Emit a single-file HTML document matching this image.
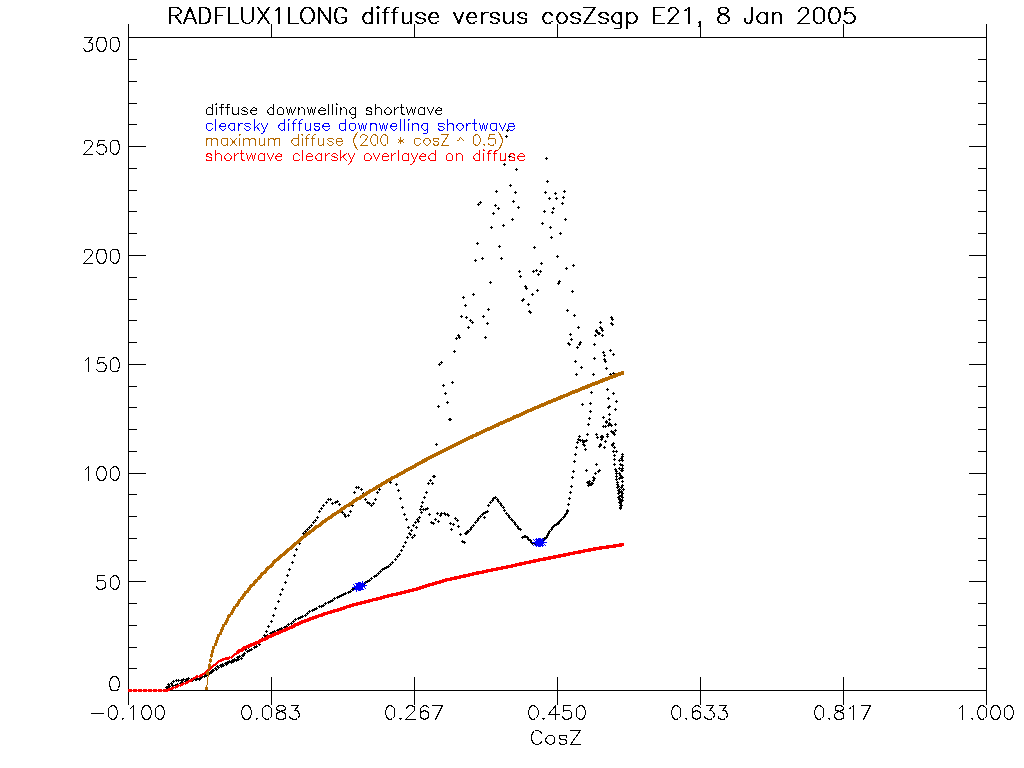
<!DOCTYPE html>
<html><head><meta charset="utf-8"><style>
html,body{margin:0;padding:0;background:#fff;width:1024px;height:768px;overflow:hidden}
svg{display:block}
</style></head><body>
<svg width="1024" height="768" viewBox="0 0 1024 768" shape-rendering="crispEdges">
<rect width="1024" height="768" fill="#fff"/>
<g fill="none" stroke-width="1" stroke-linecap="square" stroke-linejoin="miter">
<rect x="128" y="24" width="1" height="681" fill="#000"/>
<rect x="986" y="24" width="1" height="681" fill="#000"/>
<rect x="128" y="37" width="859" height="1" fill="#000"/>
<rect x="128" y="690" width="859" height="1" fill="#000"/>
<rect x="128" y="24" width="1" height="13" fill="#000"/>
<rect x="128" y="677" width="1" height="28" fill="#000"/>
<rect x="271" y="24" width="1" height="13" fill="#000"/>
<rect x="271" y="677" width="1" height="28" fill="#000"/>
<rect x="414" y="24" width="1" height="13" fill="#000"/>
<rect x="414" y="677" width="1" height="28" fill="#000"/>
<rect x="557" y="24" width="1" height="13" fill="#000"/>
<rect x="557" y="677" width="1" height="28" fill="#000"/>
<rect x="700" y="24" width="1" height="13" fill="#000"/>
<rect x="700" y="677" width="1" height="28" fill="#000"/>
<rect x="843" y="24" width="1" height="13" fill="#000"/>
<rect x="843" y="677" width="1" height="28" fill="#000"/>
<rect x="986" y="24" width="1" height="13" fill="#000"/>
<rect x="986" y="677" width="1" height="28" fill="#000"/>
<rect x="128" y="690" width="18" height="1" fill="#000"/>
<rect x="969" y="690" width="18" height="1" fill="#000"/>
<rect x="128" y="668" width="9" height="1" fill="#000"/>
<rect x="978" y="668" width="9" height="1" fill="#000"/>
<rect x="128" y="647" width="9" height="1" fill="#000"/>
<rect x="978" y="647" width="9" height="1" fill="#000"/>
<rect x="128" y="625" width="9" height="1" fill="#000"/>
<rect x="978" y="625" width="9" height="1" fill="#000"/>
<rect x="128" y="603" width="9" height="1" fill="#000"/>
<rect x="978" y="603" width="9" height="1" fill="#000"/>
<rect x="128" y="581" width="18" height="1" fill="#000"/>
<rect x="969" y="581" width="18" height="1" fill="#000"/>
<rect x="128" y="560" width="9" height="1" fill="#000"/>
<rect x="978" y="560" width="9" height="1" fill="#000"/>
<rect x="128" y="538" width="9" height="1" fill="#000"/>
<rect x="978" y="538" width="9" height="1" fill="#000"/>
<rect x="128" y="516" width="9" height="1" fill="#000"/>
<rect x="978" y="516" width="9" height="1" fill="#000"/>
<rect x="128" y="494" width="9" height="1" fill="#000"/>
<rect x="978" y="494" width="9" height="1" fill="#000"/>
<rect x="128" y="473" width="18" height="1" fill="#000"/>
<rect x="969" y="473" width="18" height="1" fill="#000"/>
<rect x="128" y="451" width="9" height="1" fill="#000"/>
<rect x="978" y="451" width="9" height="1" fill="#000"/>
<rect x="128" y="429" width="9" height="1" fill="#000"/>
<rect x="978" y="429" width="9" height="1" fill="#000"/>
<rect x="128" y="407" width="9" height="1" fill="#000"/>
<rect x="978" y="407" width="9" height="1" fill="#000"/>
<rect x="128" y="386" width="9" height="1" fill="#000"/>
<rect x="978" y="386" width="9" height="1" fill="#000"/>
<rect x="128" y="364" width="18" height="1" fill="#000"/>
<rect x="969" y="364" width="18" height="1" fill="#000"/>
<rect x="128" y="342" width="9" height="1" fill="#000"/>
<rect x="978" y="342" width="9" height="1" fill="#000"/>
<rect x="128" y="320" width="9" height="1" fill="#000"/>
<rect x="978" y="320" width="9" height="1" fill="#000"/>
<rect x="128" y="299" width="9" height="1" fill="#000"/>
<rect x="978" y="299" width="9" height="1" fill="#000"/>
<rect x="128" y="277" width="9" height="1" fill="#000"/>
<rect x="978" y="277" width="9" height="1" fill="#000"/>
<rect x="128" y="255" width="18" height="1" fill="#000"/>
<rect x="969" y="255" width="18" height="1" fill="#000"/>
<rect x="128" y="233" width="9" height="1" fill="#000"/>
<rect x="978" y="233" width="9" height="1" fill="#000"/>
<rect x="128" y="211" width="9" height="1" fill="#000"/>
<rect x="978" y="211" width="9" height="1" fill="#000"/>
<rect x="128" y="190" width="9" height="1" fill="#000"/>
<rect x="978" y="190" width="9" height="1" fill="#000"/>
<rect x="128" y="168" width="9" height="1" fill="#000"/>
<rect x="978" y="168" width="9" height="1" fill="#000"/>
<rect x="128" y="146" width="18" height="1" fill="#000"/>
<rect x="969" y="146" width="18" height="1" fill="#000"/>
<rect x="128" y="124" width="9" height="1" fill="#000"/>
<rect x="978" y="124" width="9" height="1" fill="#000"/>
<rect x="128" y="103" width="9" height="1" fill="#000"/>
<rect x="978" y="103" width="9" height="1" fill="#000"/>
<rect x="128" y="81" width="9" height="1" fill="#000"/>
<rect x="978" y="81" width="9" height="1" fill="#000"/>
<rect x="128" y="59" width="9" height="1" fill="#000"/>
<rect x="978" y="59" width="9" height="1" fill="#000"/>
<rect x="128" y="37" width="18" height="1" fill="#000"/>
<rect x="969" y="37" width="18" height="1" fill="#000"/>
<path d="M84.5 37.5L92.5 37.5L88.5 42.5L90.5 42.5L91.5 43.5L92.5 43.5L92.5 45.5L92.5 47.5L92.5 49.5L90.5 50.5L88.5 51.5L86.5 51.5L84.5 50.5L84.5 49.5L83.5 48.5M100.5 37.5L98.5 37.5L97.5 39.5L96.5 43.5L96.5 45.5L97.5 48.5L98.5 50.5L100.5 51.5L102.5 51.5L104.5 50.5L105.5 48.5L106.5 45.5L106.5 43.5L105.5 39.5L104.5 37.5L102.5 37.5L100.5 37.5M114.5 37.5L112.5 37.5L110.5 39.5L110.5 43.5L110.5 45.5L110.5 48.5L112.5 50.5L114.5 51.5L115.5 51.5L117.5 50.5L118.5 48.5L119.5 45.5L119.5 43.5L118.5 39.5L117.5 37.5L115.5 37.5L114.5 37.5" stroke="#000" />
<path d="M84.5 143.5L84.5 142.5L84.5 141.5L85.5 140.5L86.5 140.5L89.5 140.5L90.5 140.5L91.5 141.5L92.5 142.5L92.5 144.5L91.5 145.5L90.5 147.5L83.5 154.5L92.5 154.5M104.5 140.5L98.5 140.5L97.5 146.5L98.5 145.5L100.5 144.5L102.5 144.5L104.5 145.5L105.5 146.5L106.5 148.5L106.5 150.5L105.5 152.5L104.5 153.5L102.5 154.5L100.5 154.5L98.5 153.5L97.5 152.5L96.5 151.5M114.5 140.5L112.5 140.5L110.5 142.5L110.5 146.5L110.5 148.5L110.5 151.5L112.5 153.5L114.5 154.5L115.5 154.5L117.5 153.5L118.5 151.5L119.5 148.5L119.5 146.5L118.5 142.5L117.5 140.5L115.5 140.5L114.5 140.5" stroke="#000" />
<path d="M84.5 252.5L84.5 251.5L84.5 250.5L85.5 249.5L86.5 249.5L89.5 249.5L90.5 249.5L91.5 250.5L92.5 251.5L92.5 253.5L91.5 254.5L90.5 256.5L83.5 263.5L92.5 263.5M100.5 249.5L98.5 249.5L97.5 251.5L96.5 255.5L96.5 257.5L97.5 260.5L98.5 262.5L100.5 263.5L102.5 263.5L104.5 262.5L105.5 260.5L106.5 257.5L106.5 255.5L105.5 251.5L104.5 249.5L102.5 249.5L100.5 249.5M114.5 249.5L112.5 249.5L110.5 251.5L110.5 255.5L110.5 257.5L110.5 260.5L112.5 262.5L114.5 263.5L115.5 263.5L117.5 262.5L118.5 260.5L119.5 257.5L119.5 255.5L118.5 251.5L117.5 249.5L115.5 249.5L114.5 249.5" stroke="#000" />
<path d="M85.5 360.5L86.5 359.5L88.5 357.5L88.5 371.5M104.5 357.5L98.5 357.5L97.5 363.5L98.5 363.5L100.5 362.5L102.5 362.5L104.5 363.5L105.5 364.5L106.5 366.5L106.5 367.5L105.5 369.5L104.5 371.5L102.5 371.5L100.5 371.5L98.5 371.5L97.5 370.5L96.5 369.5M114.5 357.5L112.5 358.5L110.5 360.5L110.5 363.5L110.5 365.5L110.5 369.5L112.5 371.5L114.5 371.5L115.5 371.5L117.5 371.5L118.5 369.5L119.5 365.5L119.5 363.5L118.5 360.5L117.5 358.5L115.5 357.5L114.5 357.5" stroke="#000" />
<path d="M85.5 469.5L86.5 468.5L88.5 466.5L88.5 480.5M100.5 466.5L98.5 467.5L97.5 469.5L96.5 472.5L96.5 474.5L97.5 477.5L98.5 479.5L100.5 480.5L102.5 480.5L104.5 479.5L105.5 477.5L106.5 474.5L106.5 472.5L105.5 469.5L104.5 467.5L102.5 466.5L100.5 466.5M114.5 466.5L112.5 467.5L110.5 469.5L110.5 472.5L110.5 474.5L110.5 477.5L112.5 479.5L114.5 480.5L115.5 480.5L117.5 479.5L118.5 477.5L119.5 474.5L119.5 472.5L118.5 469.5L117.5 467.5L115.5 466.5L114.5 466.5" stroke="#000" />
<path d="M104.5 575.5L97.5 575.5L97.5 581.5L97.5 580.5L99.5 580.5L101.5 580.5L103.5 580.5L105.5 582.5L105.5 584.5L105.5 585.5L105.5 587.5L103.5 588.5L101.5 589.5L99.5 589.5L97.5 588.5L97.5 588.5L96.5 586.5M114.5 575.5L112.5 576.5L110.5 578.5L110.5 581.5L110.5 583.5L110.5 586.5L112.5 588.5L114.5 589.5L115.5 589.5L117.5 588.5L118.5 586.5L119.5 583.5L119.5 581.5L118.5 578.5L117.5 576.5L115.5 575.5L114.5 575.5" stroke="#000" />
<path d="M113.5 676.5L111.5 677.5L110.5 679.5L109.5 682.5L109.5 684.5L110.5 688.5L111.5 690.5L113.5 690.5L115.5 690.5L117.5 690.5L118.5 688.5L119.5 684.5L119.5 682.5L118.5 679.5L117.5 677.5L115.5 676.5L113.5 676.5" stroke="#000" />
<path d="M91.5 713.5L103.5 713.5M112.5 705.5L110.5 706.5L108.5 708.5L108.5 711.5L108.5 713.5L108.5 716.5L110.5 718.5L112.5 719.5L113.5 719.5L115.5 718.5L116.5 716.5L117.5 713.5L117.5 711.5L116.5 708.5L115.5 706.5L113.5 705.5L112.5 705.5M122.5 718.5L122.5 718.5L122.5 719.5L123.5 718.5L122.5 718.5M130.5 708.5L131.5 707.5L133.5 705.5L133.5 719.5M145.5 705.5L143.5 706.5L142.5 708.5L141.5 711.5L141.5 713.5L142.5 716.5L143.5 718.5L145.5 719.5L147.5 719.5L149.5 718.5L150.5 716.5L151.5 713.5L151.5 711.5L150.5 708.5L149.5 706.5L147.5 705.5L145.5 705.5M159.5 705.5L157.5 706.5L155.5 708.5L155.5 711.5L155.5 713.5L155.5 716.5L157.5 718.5L159.5 719.5L160.5 719.5L162.5 718.5L163.5 716.5L164.5 713.5L164.5 711.5L163.5 708.5L162.5 706.5L160.5 705.5L159.5 705.5" stroke="#000" />
<path d="M245.5 705.5L243.5 706.5L242.5 708.5L241.5 711.5L241.5 713.5L242.5 716.5L243.5 718.5L245.5 719.5L247.5 719.5L249.5 718.5L250.5 716.5L251.5 713.5L251.5 711.5L250.5 708.5L249.5 706.5L247.5 705.5L245.5 705.5M256.5 718.5L256.5 718.5L256.5 719.5L257.5 718.5L256.5 718.5M266.5 705.5L264.5 706.5L262.5 708.5L262.5 711.5L262.5 713.5L262.5 716.5L264.5 718.5L266.5 719.5L267.5 719.5L269.5 718.5L271.5 716.5L271.5 713.5L271.5 711.5L271.5 708.5L269.5 706.5L267.5 705.5L266.5 705.5M279.5 705.5L277.5 706.5L276.5 707.5L276.5 708.5L277.5 710.5L278.5 710.5L281.5 711.5L283.5 712.5L285.5 713.5L285.5 714.5L285.5 716.5L285.5 718.5L284.5 718.5L282.5 719.5L279.5 719.5L277.5 718.5L276.5 718.5L276.5 716.5L276.5 714.5L276.5 713.5L278.5 712.5L280.5 711.5L282.5 710.5L284.5 710.5L285.5 708.5L285.5 707.5L284.5 706.5L282.5 705.5L279.5 705.5M291.5 705.5L298.5 705.5L294.5 710.5L296.5 710.5L298.5 711.5L298.5 712.5L299.5 714.5L299.5 715.5L298.5 717.5L297.5 718.5L295.5 719.5L293.5 719.5L291.5 718.5L290.5 718.5L289.5 716.5" stroke="#000" />
<path d="M389.5 705.5L387.5 706.5L386.5 708.5L385.5 711.5L385.5 713.5L386.5 716.5L387.5 718.5L389.5 719.5L390.5 719.5L392.5 718.5L394.5 716.5L394.5 713.5L394.5 711.5L394.5 708.5L392.5 706.5L390.5 705.5L389.5 705.5M400.5 718.5L399.5 718.5L400.5 719.5L401.5 718.5L400.5 718.5M406.5 708.5L406.5 708.5L407.5 706.5L407.5 706.5L409.5 705.5L411.5 705.5L413.5 706.5L414.5 706.5L414.5 708.5L414.5 709.5L414.5 710.5L412.5 712.5L405.5 719.5L415.5 719.5M428.5 707.5L427.5 706.5L425.5 705.5L424.5 705.5L422.5 706.5L420.5 708.5L420.5 711.5L420.5 714.5L420.5 717.5L422.5 718.5L424.5 719.5L424.5 719.5L426.5 718.5L428.5 717.5L428.5 715.5L428.5 714.5L428.5 712.5L426.5 711.5L424.5 710.5L424.5 710.5L422.5 711.5L420.5 712.5L420.5 714.5M442.5 705.5L435.5 719.5M432.5 705.5L442.5 705.5" stroke="#000" />
<path d="M532.5 705.5L530.5 706.5L529.5 708.5L528.5 711.5L528.5 713.5L529.5 716.5L530.5 718.5L532.5 719.5L533.5 719.5L535.5 718.5L537.5 716.5L538.5 713.5L538.5 711.5L537.5 708.5L535.5 706.5L533.5 705.5L532.5 705.5M543.5 718.5L542.5 718.5L543.5 719.5L544.5 718.5L543.5 718.5M555.5 705.5L548.5 714.5L559.5 714.5M555.5 705.5L555.5 719.5M570.5 705.5L563.5 705.5L563.5 711.5L563.5 710.5L565.5 710.5L567.5 710.5L569.5 710.5L571.5 712.5L571.5 714.5L571.5 715.5L571.5 717.5L569.5 718.5L567.5 719.5L565.5 719.5L563.5 718.5L563.5 718.5L562.5 716.5M580.5 705.5L578.5 706.5L576.5 708.5L576.5 711.5L576.5 713.5L576.5 716.5L578.5 718.5L580.5 719.5L581.5 719.5L583.5 718.5L584.5 716.5L585.5 713.5L585.5 711.5L584.5 708.5L583.5 706.5L581.5 705.5L580.5 705.5" stroke="#000" />
<path d="M675.5 705.5L673.5 706.5L672.5 708.5L671.5 711.5L671.5 713.5L672.5 716.5L673.5 718.5L675.5 719.5L676.5 719.5L678.5 718.5L680.5 716.5L680.5 713.5L680.5 711.5L680.5 708.5L678.5 706.5L676.5 705.5L675.5 705.5M686.5 718.5L685.5 718.5L686.5 719.5L686.5 718.5L686.5 718.5M700.5 707.5L699.5 706.5L697.5 705.5L696.5 705.5L694.5 706.5L692.5 708.5L692.5 711.5L692.5 714.5L692.5 717.5L694.5 718.5L696.5 719.5L696.5 719.5L698.5 718.5L700.5 717.5L700.5 715.5L700.5 714.5L700.5 712.5L698.5 711.5L696.5 710.5L696.5 710.5L694.5 711.5L692.5 712.5L692.5 714.5M706.5 705.5L713.5 705.5L709.5 710.5L711.5 710.5L712.5 711.5L713.5 712.5L714.5 714.5L714.5 715.5L713.5 717.5L712.5 718.5L710.5 719.5L708.5 719.5L706.5 718.5L705.5 718.5L704.5 716.5M719.5 705.5L726.5 705.5L722.5 710.5L724.5 710.5L726.5 711.5L726.5 712.5L727.5 714.5L727.5 715.5L726.5 717.5L725.5 718.5L723.5 719.5L721.5 719.5L719.5 718.5L718.5 718.5L718.5 716.5" stroke="#000" />
<path d="M818.5 705.5L816.5 706.5L815.5 708.5L814.5 711.5L814.5 713.5L815.5 716.5L816.5 718.5L818.5 719.5L819.5 719.5L821.5 718.5L823.5 716.5L823.5 713.5L823.5 711.5L823.5 708.5L821.5 706.5L819.5 705.5L818.5 705.5M829.5 718.5L828.5 718.5L829.5 719.5L829.5 718.5L829.5 718.5M837.5 705.5L835.5 706.5L835.5 707.5L835.5 708.5L835.5 710.5L837.5 710.5L839.5 711.5L841.5 712.5L843.5 713.5L843.5 714.5L843.5 716.5L843.5 718.5L842.5 718.5L840.5 719.5L837.5 719.5L835.5 718.5L835.5 718.5L834.5 716.5L834.5 714.5L835.5 713.5L836.5 712.5L838.5 711.5L841.5 710.5L842.5 710.5L843.5 708.5L843.5 707.5L842.5 706.5L840.5 705.5L837.5 705.5M849.5 708.5L851.5 707.5L853.5 705.5L853.5 719.5M870.5 705.5L863.5 719.5M861.5 705.5L870.5 705.5" stroke="#000" />
<path d="M959.5 708.5L960.5 707.5L962.5 705.5L962.5 719.5M972.5 718.5L971.5 718.5L972.5 719.5L972.5 718.5L972.5 718.5M981.5 705.5L979.5 706.5L978.5 708.5L977.5 711.5L977.5 713.5L978.5 716.5L979.5 718.5L981.5 719.5L982.5 719.5L984.5 718.5L986.5 716.5L986.5 713.5L986.5 711.5L986.5 708.5L984.5 706.5L982.5 705.5L981.5 705.5M994.5 705.5L992.5 706.5L991.5 708.5L990.5 711.5L990.5 713.5L991.5 716.5L992.5 718.5L994.5 719.5L996.5 719.5L998.5 718.5L999.5 716.5L1000.5 713.5L1000.5 711.5L999.5 708.5L998.5 706.5L996.5 705.5L994.5 705.5M1008.5 705.5L1006.5 706.5L1004.5 708.5L1004.5 711.5L1004.5 713.5L1004.5 716.5L1006.5 718.5L1008.5 719.5L1009.5 719.5L1011.5 718.5L1012.5 716.5L1013.5 713.5L1013.5 711.5L1012.5 708.5L1011.5 706.5L1009.5 705.5L1008.5 705.5" stroke="#000" />
<path d="M541.5 733.5L541.5 732.5L539.5 731.5L538.5 730.5L535.5 730.5L534.5 731.5L532.5 732.5L532.5 733.5L531.5 735.5L531.5 739.5L532.5 741.5L532.5 742.5L534.5 743.5L535.5 744.5L538.5 744.5L539.5 743.5L541.5 742.5L541.5 741.5M549.5 735.5L548.5 735.5L546.5 737.5L545.5 739.5L545.5 740.5L546.5 742.5L548.5 743.5L549.5 744.5L551.5 744.5L552.5 743.5L554.5 742.5L554.5 740.5L554.5 739.5L554.5 737.5L552.5 735.5L551.5 735.5L549.5 735.5M566.5 737.5L566.5 735.5L563.5 735.5L561.5 735.5L559.5 735.5L559.5 737.5L559.5 738.5L561.5 739.5L564.5 739.5L566.5 740.5L566.5 741.5L566.5 742.5L566.5 743.5L563.5 744.5L561.5 744.5L559.5 743.5L559.5 742.5M580.5 730.5L570.5 744.5M570.5 730.5L580.5 730.5M570.5 744.5L580.5 744.5" stroke="#000" />
<path d="M169.5 7.5L169.5 23.5M169.5 7.5L176.5 7.5L178.5 8.5L179.5 9.5L180.5 10.5L180.5 12.5L179.5 13.5L178.5 14.5L176.5 15.5L169.5 15.5M174.5 15.5L180.5 23.5M189.5 7.5L183.5 23.5M189.5 7.5L195.5 23.5M185.5 18.5L193.5 18.5M199.5 7.5L199.5 23.5M199.5 7.5L204.5 7.5L206.5 8.5L208.5 9.5L208.5 11.5L209.5 13.5L209.5 17.5L208.5 19.5L208.5 21.5L206.5 22.5L204.5 23.5L199.5 23.5M215.5 7.5L215.5 23.5M215.5 7.5L224.5 7.5M215.5 15.5L221.5 15.5M228.5 7.5L228.5 23.5M228.5 23.5L237.5 23.5M241.5 7.5L241.5 18.5L242.5 21.5L243.5 22.5L246.5 23.5L247.5 23.5L250.5 22.5L251.5 21.5L252.5 18.5L252.5 7.5M257.5 7.5L268.5 23.5M257.5 23.5L268.5 7.5M275.5 10.5L276.5 9.5L278.5 7.5L278.5 23.5M288.5 7.5L288.5 23.5M288.5 23.5L297.5 23.5M305.5 7.5L303.5 8.5L302.5 9.5L301.5 11.5L300.5 13.5L300.5 17.5L301.5 19.5L302.5 21.5L303.5 22.5L305.5 23.5L308.5 23.5L310.5 22.5L311.5 21.5L312.5 19.5L313.5 17.5L313.5 13.5L312.5 11.5L311.5 9.5L310.5 8.5L308.5 7.5L305.5 7.5M318.5 7.5L318.5 23.5M318.5 7.5L329.5 23.5M329.5 7.5L329.5 23.5M345.5 11.5L345.5 9.5L343.5 8.5L341.5 7.5L338.5 7.5L337.5 8.5L335.5 9.5L335.5 11.5L334.5 13.5L334.5 17.5L335.5 19.5L335.5 21.5L337.5 22.5L338.5 23.5L341.5 23.5L343.5 22.5L345.5 21.5L345.5 19.5L345.5 17.5M341.5 17.5L345.5 17.5M371.5 7.5L371.5 23.5M371.5 15.5L370.5 13.5L368.5 12.5L366.5 12.5L364.5 13.5L363.5 15.5L362.5 17.5L362.5 18.5L363.5 21.5L364.5 22.5L366.5 23.5L368.5 23.5L370.5 22.5L371.5 21.5M376.5 7.5L377.5 8.5L378.5 7.5L377.5 6.5L376.5 7.5M377.5 12.5L377.5 23.5M388.5 7.5L386.5 7.5L385.5 8.5L384.5 10.5L384.5 23.5M382.5 12.5L387.5 12.5M397.5 7.5L395.5 7.5L394.5 8.5L393.5 10.5L393.5 23.5M391.5 12.5L396.5 12.5M402.5 12.5L402.5 20.5L402.5 22.5L404.5 23.5L406.5 23.5L408.5 22.5L410.5 20.5M410.5 12.5L410.5 23.5M424.5 15.5L423.5 13.5L420.5 12.5L418.5 12.5L416.5 13.5L415.5 15.5L416.5 16.5L417.5 17.5L421.5 18.5L423.5 18.5L424.5 20.5L424.5 21.5L423.5 22.5L420.5 23.5L418.5 23.5L416.5 22.5L415.5 21.5M428.5 17.5L437.5 17.5L437.5 15.5L436.5 14.5L436.5 13.5L434.5 12.5L432.5 12.5L430.5 13.5L429.5 15.5L428.5 17.5L428.5 18.5L429.5 21.5L430.5 22.5L432.5 23.5L434.5 23.5L436.5 22.5L437.5 21.5M453.5 12.5L458.5 23.5M462.5 12.5L458.5 23.5M466.5 17.5L475.5 17.5L475.5 15.5L474.5 14.5L474.5 13.5L472.5 12.5L470.5 12.5L468.5 13.5L467.5 15.5L466.5 17.5L466.5 18.5L467.5 21.5L468.5 22.5L470.5 23.5L472.5 23.5L474.5 22.5L475.5 21.5M481.5 12.5L481.5 23.5M481.5 17.5L481.5 15.5L483.5 13.5L484.5 12.5L487.5 12.5M498.5 15.5L497.5 13.5L495.5 12.5L493.5 12.5L490.5 13.5L490.5 15.5L490.5 16.5L492.5 17.5L496.5 18.5L497.5 18.5L498.5 20.5L498.5 21.5L497.5 22.5L495.5 23.5L493.5 23.5L490.5 22.5L490.5 21.5M503.5 12.5L503.5 20.5L504.5 22.5L506.5 23.5L508.5 23.5L509.5 22.5L512.5 20.5M512.5 12.5L512.5 23.5M525.5 15.5L525.5 13.5L522.5 12.5L520.5 12.5L518.5 13.5L517.5 15.5L518.5 16.5L519.5 17.5L523.5 18.5L525.5 18.5L525.5 20.5L525.5 21.5L525.5 22.5L522.5 23.5L520.5 23.5L518.5 22.5L517.5 21.5M551.5 15.5L550.5 13.5L548.5 12.5L546.5 12.5L544.5 13.5L543.5 15.5L542.5 17.5L542.5 18.5L543.5 21.5L544.5 22.5L546.5 23.5L548.5 23.5L550.5 22.5L551.5 21.5M560.5 12.5L558.5 13.5L557.5 15.5L556.5 17.5L556.5 18.5L557.5 21.5L558.5 22.5L560.5 23.5L562.5 23.5L563.5 22.5L565.5 21.5L566.5 18.5L566.5 17.5L565.5 15.5L563.5 13.5L562.5 12.5L560.5 12.5M579.5 15.5L578.5 13.5L576.5 12.5L573.5 12.5L571.5 13.5L570.5 15.5L571.5 16.5L573.5 17.5L576.5 18.5L578.5 18.5L579.5 20.5L579.5 21.5L578.5 22.5L576.5 23.5L573.5 23.5L571.5 22.5L570.5 21.5M594.5 7.5L583.5 23.5M583.5 7.5L594.5 7.5M583.5 23.5L594.5 23.5M607.5 15.5L606.5 13.5L604.5 12.5L601.5 12.5L599.5 13.5L598.5 15.5L599.5 16.5L601.5 17.5L604.5 18.5L606.5 18.5L607.5 20.5L607.5 21.5L606.5 22.5L604.5 23.5L601.5 23.5L599.5 22.5L598.5 21.5M620.5 12.5L620.5 25.5L620.5 27.5L619.5 28.5L617.5 28.5L615.5 28.5L614.5 28.5M620.5 15.5L619.5 13.5L617.5 12.5L615.5 12.5L614.5 13.5L612.5 15.5L611.5 17.5L611.5 18.5L612.5 21.5L614.5 22.5L615.5 23.5L617.5 23.5L619.5 22.5L620.5 21.5M626.5 12.5L626.5 28.5M626.5 15.5L628.5 13.5L630.5 12.5L632.5 12.5L633.5 13.5L635.5 15.5L636.5 17.5L636.5 18.5L635.5 21.5L633.5 22.5L632.5 23.5L630.5 23.5L628.5 22.5L626.5 21.5M653.5 7.5L653.5 23.5M653.5 7.5L663.5 7.5M653.5 15.5L659.5 15.5M653.5 23.5L663.5 23.5M668.5 11.5L668.5 10.5L668.5 9.5L669.5 8.5L671.5 7.5L674.5 7.5L675.5 8.5L676.5 9.5L677.5 10.5L677.5 12.5L676.5 13.5L674.5 15.5L667.5 23.5L677.5 23.5M684.5 10.5L686.5 9.5L688.5 7.5L688.5 23.5M699.5 22.5L699.5 23.5L698.5 22.5L699.5 21.5L699.5 22.5L699.5 24.5L699.5 25.5L698.5 26.5M721.5 7.5L718.5 8.5L718.5 9.5L718.5 11.5L718.5 12.5L720.5 13.5L723.5 14.5L725.5 15.5L727.5 16.5L728.5 18.5L728.5 20.5L727.5 21.5L726.5 22.5L724.5 23.5L721.5 23.5L718.5 22.5L718.5 21.5L717.5 20.5L717.5 18.5L718.5 16.5L719.5 15.5L721.5 14.5L725.5 13.5L726.5 12.5L727.5 11.5L727.5 9.5L726.5 8.5L724.5 7.5L721.5 7.5M751.5 7.5L751.5 19.5L750.5 21.5L750.5 22.5L748.5 23.5L747.5 23.5L745.5 22.5L744.5 21.5L744.5 19.5L744.5 18.5M766.5 12.5L766.5 23.5M766.5 15.5L764.5 13.5L763.5 12.5L760.5 12.5L759.5 13.5L757.5 15.5L756.5 17.5L756.5 18.5L757.5 21.5L759.5 22.5L760.5 23.5L763.5 23.5L764.5 22.5L766.5 21.5M772.5 12.5L772.5 23.5M772.5 15.5L774.5 13.5L775.5 12.5L778.5 12.5L779.5 13.5L780.5 15.5L780.5 23.5M798.5 11.5L798.5 10.5L799.5 9.5L800.5 8.5L801.5 7.5L804.5 7.5L806.5 8.5L807.5 9.5L807.5 10.5L807.5 12.5L807.5 13.5L805.5 15.5L797.5 23.5L808.5 23.5M817.5 7.5L815.5 8.5L813.5 10.5L813.5 14.5L813.5 16.5L813.5 20.5L815.5 22.5L817.5 23.5L819.5 23.5L821.5 22.5L823.5 20.5L823.5 16.5L823.5 14.5L823.5 10.5L821.5 8.5L819.5 7.5L817.5 7.5M832.5 7.5L830.5 8.5L829.5 10.5L828.5 14.5L828.5 16.5L829.5 20.5L830.5 22.5L832.5 23.5L834.5 23.5L836.5 22.5L838.5 20.5L839.5 16.5L839.5 14.5L838.5 10.5L836.5 8.5L834.5 7.5L832.5 7.5M852.5 7.5L845.5 7.5L844.5 14.5L845.5 13.5L847.5 12.5L849.5 12.5L851.5 13.5L853.5 15.5L854.5 17.5L854.5 18.5L853.5 21.5L851.5 22.5L849.5 23.5L847.5 23.5L845.5 22.5L844.5 21.5L843.5 20.5" stroke="#000" />
<g transform="translate(1,0)"><path d="M169.5 7.5L169.5 23.5M169.5 7.5L176.5 7.5L178.5 8.5L179.5 9.5L180.5 10.5L180.5 12.5L179.5 13.5L178.5 14.5L176.5 15.5L169.5 15.5M174.5 15.5L180.5 23.5M189.5 7.5L183.5 23.5M189.5 7.5L195.5 23.5M185.5 18.5L193.5 18.5M199.5 7.5L199.5 23.5M199.5 7.5L204.5 7.5L206.5 8.5L208.5 9.5L208.5 11.5L209.5 13.5L209.5 17.5L208.5 19.5L208.5 21.5L206.5 22.5L204.5 23.5L199.5 23.5M215.5 7.5L215.5 23.5M215.5 7.5L224.5 7.5M215.5 15.5L221.5 15.5M228.5 7.5L228.5 23.5M228.5 23.5L237.5 23.5M241.5 7.5L241.5 18.5L242.5 21.5L243.5 22.5L246.5 23.5L247.5 23.5L250.5 22.5L251.5 21.5L252.5 18.5L252.5 7.5M257.5 7.5L268.5 23.5M257.5 23.5L268.5 7.5M275.5 10.5L276.5 9.5L278.5 7.5L278.5 23.5M288.5 7.5L288.5 23.5M288.5 23.5L297.5 23.5M305.5 7.5L303.5 8.5L302.5 9.5L301.5 11.5L300.5 13.5L300.5 17.5L301.5 19.5L302.5 21.5L303.5 22.5L305.5 23.5L308.5 23.5L310.5 22.5L311.5 21.5L312.5 19.5L313.5 17.5L313.5 13.5L312.5 11.5L311.5 9.5L310.5 8.5L308.5 7.5L305.5 7.5M318.5 7.5L318.5 23.5M318.5 7.5L329.5 23.5M329.5 7.5L329.5 23.5M345.5 11.5L345.5 9.5L343.5 8.5L341.5 7.5L338.5 7.5L337.5 8.5L335.5 9.5L335.5 11.5L334.5 13.5L334.5 17.5L335.5 19.5L335.5 21.5L337.5 22.5L338.5 23.5L341.5 23.5L343.5 22.5L345.5 21.5L345.5 19.5L345.5 17.5M341.5 17.5L345.5 17.5M371.5 7.5L371.5 23.5M371.5 15.5L370.5 13.5L368.5 12.5L366.5 12.5L364.5 13.5L363.5 15.5L362.5 17.5L362.5 18.5L363.5 21.5L364.5 22.5L366.5 23.5L368.5 23.5L370.5 22.5L371.5 21.5M376.5 7.5L377.5 8.5L378.5 7.5L377.5 6.5L376.5 7.5M377.5 12.5L377.5 23.5M388.5 7.5L386.5 7.5L385.5 8.5L384.5 10.5L384.5 23.5M382.5 12.5L387.5 12.5M397.5 7.5L395.5 7.5L394.5 8.5L393.5 10.5L393.5 23.5M391.5 12.5L396.5 12.5M402.5 12.5L402.5 20.5L402.5 22.5L404.5 23.5L406.5 23.5L408.5 22.5L410.5 20.5M410.5 12.5L410.5 23.5M424.5 15.5L423.5 13.5L420.5 12.5L418.5 12.5L416.5 13.5L415.5 15.5L416.5 16.5L417.5 17.5L421.5 18.5L423.5 18.5L424.5 20.5L424.5 21.5L423.5 22.5L420.5 23.5L418.5 23.5L416.5 22.5L415.5 21.5M428.5 17.5L437.5 17.5L437.5 15.5L436.5 14.5L436.5 13.5L434.5 12.5L432.5 12.5L430.5 13.5L429.5 15.5L428.5 17.5L428.5 18.5L429.5 21.5L430.5 22.5L432.5 23.5L434.5 23.5L436.5 22.5L437.5 21.5M453.5 12.5L458.5 23.5M462.5 12.5L458.5 23.5M466.5 17.5L475.5 17.5L475.5 15.5L474.5 14.5L474.5 13.5L472.5 12.5L470.5 12.5L468.5 13.5L467.5 15.5L466.5 17.5L466.5 18.5L467.5 21.5L468.5 22.5L470.5 23.5L472.5 23.5L474.5 22.5L475.5 21.5M481.5 12.5L481.5 23.5M481.5 17.5L481.5 15.5L483.5 13.5L484.5 12.5L487.5 12.5M498.5 15.5L497.5 13.5L495.5 12.5L493.5 12.5L490.5 13.5L490.5 15.5L490.5 16.5L492.5 17.5L496.5 18.5L497.5 18.5L498.5 20.5L498.5 21.5L497.5 22.5L495.5 23.5L493.5 23.5L490.5 22.5L490.5 21.5M503.5 12.5L503.5 20.5L504.5 22.5L506.5 23.5L508.5 23.5L509.5 22.5L512.5 20.5M512.5 12.5L512.5 23.5M525.5 15.5L525.5 13.5L522.5 12.5L520.5 12.5L518.5 13.5L517.5 15.5L518.5 16.5L519.5 17.5L523.5 18.5L525.5 18.5L525.5 20.5L525.5 21.5L525.5 22.5L522.5 23.5L520.5 23.5L518.5 22.5L517.5 21.5M551.5 15.5L550.5 13.5L548.5 12.5L546.5 12.5L544.5 13.5L543.5 15.5L542.5 17.5L542.5 18.5L543.5 21.5L544.5 22.5L546.5 23.5L548.5 23.5L550.5 22.5L551.5 21.5M560.5 12.5L558.5 13.5L557.5 15.5L556.5 17.5L556.5 18.5L557.5 21.5L558.5 22.5L560.5 23.5L562.5 23.5L563.5 22.5L565.5 21.5L566.5 18.5L566.5 17.5L565.5 15.5L563.5 13.5L562.5 12.5L560.5 12.5M579.5 15.5L578.5 13.5L576.5 12.5L573.5 12.5L571.5 13.5L570.5 15.5L571.5 16.5L573.5 17.5L576.5 18.5L578.5 18.5L579.5 20.5L579.5 21.5L578.5 22.5L576.5 23.5L573.5 23.5L571.5 22.5L570.5 21.5M594.5 7.5L583.5 23.5M583.5 7.5L594.5 7.5M583.5 23.5L594.5 23.5M607.5 15.5L606.5 13.5L604.5 12.5L601.5 12.5L599.5 13.5L598.5 15.5L599.5 16.5L601.5 17.5L604.5 18.5L606.5 18.5L607.5 20.5L607.5 21.5L606.5 22.5L604.5 23.5L601.5 23.5L599.5 22.5L598.5 21.5M620.5 12.5L620.5 25.5L620.5 27.5L619.5 28.5L617.5 28.5L615.5 28.5L614.5 28.5M620.5 15.5L619.5 13.5L617.5 12.5L615.5 12.5L614.5 13.5L612.5 15.5L611.5 17.5L611.5 18.5L612.5 21.5L614.5 22.5L615.5 23.5L617.5 23.5L619.5 22.5L620.5 21.5M626.5 12.5L626.5 28.5M626.5 15.5L628.5 13.5L630.5 12.5L632.5 12.5L633.5 13.5L635.5 15.5L636.5 17.5L636.5 18.5L635.5 21.5L633.5 22.5L632.5 23.5L630.5 23.5L628.5 22.5L626.5 21.5M653.5 7.5L653.5 23.5M653.5 7.5L663.5 7.5M653.5 15.5L659.5 15.5M653.5 23.5L663.5 23.5M668.5 11.5L668.5 10.5L668.5 9.5L669.5 8.5L671.5 7.5L674.5 7.5L675.5 8.5L676.5 9.5L677.5 10.5L677.5 12.5L676.5 13.5L674.5 15.5L667.5 23.5L677.5 23.5M684.5 10.5L686.5 9.5L688.5 7.5L688.5 23.5M699.5 22.5L699.5 23.5L698.5 22.5L699.5 21.5L699.5 22.5L699.5 24.5L699.5 25.5L698.5 26.5M721.5 7.5L718.5 8.5L718.5 9.5L718.5 11.5L718.5 12.5L720.5 13.5L723.5 14.5L725.5 15.5L727.5 16.5L728.5 18.5L728.5 20.5L727.5 21.5L726.5 22.5L724.5 23.5L721.5 23.5L718.5 22.5L718.5 21.5L717.5 20.5L717.5 18.5L718.5 16.5L719.5 15.5L721.5 14.5L725.5 13.5L726.5 12.5L727.5 11.5L727.5 9.5L726.5 8.5L724.5 7.5L721.5 7.5M751.5 7.5L751.5 19.5L750.5 21.5L750.5 22.5L748.5 23.5L747.5 23.5L745.5 22.5L744.5 21.5L744.5 19.5L744.5 18.5M766.5 12.5L766.5 23.5M766.5 15.5L764.5 13.5L763.5 12.5L760.5 12.5L759.5 13.5L757.5 15.5L756.5 17.5L756.5 18.5L757.5 21.5L759.5 22.5L760.5 23.5L763.5 23.5L764.5 22.5L766.5 21.5M772.5 12.5L772.5 23.5M772.5 15.5L774.5 13.5L775.5 12.5L778.5 12.5L779.5 13.5L780.5 15.5L780.5 23.5M798.5 11.5L798.5 10.5L799.5 9.5L800.5 8.5L801.5 7.5L804.5 7.5L806.5 8.5L807.5 9.5L807.5 10.5L807.5 12.5L807.5 13.5L805.5 15.5L797.5 23.5L808.5 23.5M817.5 7.5L815.5 8.5L813.5 10.5L813.5 14.5L813.5 16.5L813.5 20.5L815.5 22.5L817.5 23.5L819.5 23.5L821.5 22.5L823.5 20.5L823.5 16.5L823.5 14.5L823.5 10.5L821.5 8.5L819.5 7.5L817.5 7.5M832.5 7.5L830.5 8.5L829.5 10.5L828.5 14.5L828.5 16.5L829.5 20.5L830.5 22.5L832.5 23.5L834.5 23.5L836.5 22.5L838.5 20.5L839.5 16.5L839.5 14.5L838.5 10.5L836.5 8.5L834.5 7.5L832.5 7.5M852.5 7.5L845.5 7.5L844.5 14.5L845.5 13.5L847.5 12.5L849.5 12.5L851.5 13.5L853.5 15.5L854.5 17.5L854.5 18.5L853.5 21.5L851.5 22.5L849.5 23.5L847.5 23.5L845.5 22.5L844.5 21.5L843.5 20.5" stroke="#000" /></g>
<path d="M212.5 104.5L212.5 114.5M212.5 109.5L211.5 108.5L210.5 107.5L208.5 107.5L207.5 108.5L206.5 109.5L206.5 110.5L206.5 111.5L206.5 113.5L207.5 114.5L208.5 114.5L210.5 114.5L211.5 114.5L212.5 113.5M215.5 104.5L216.5 104.5L216.5 104.5L216.5 103.5L215.5 104.5M216.5 107.5L216.5 114.5M223.5 104.5L222.5 104.5L221.5 104.5L221.5 106.5L221.5 114.5M219.5 107.5L223.5 107.5M229.5 104.5L228.5 104.5L227.5 104.5L227.5 106.5L227.5 114.5M225.5 107.5L229.5 107.5M232.5 107.5L232.5 112.5L233.5 114.5L234.5 114.5L235.5 114.5L236.5 114.5L238.5 112.5M238.5 107.5L238.5 114.5M247.5 109.5L246.5 108.5L245.5 107.5L243.5 107.5L242.5 108.5L241.5 109.5L242.5 110.5L243.5 110.5L245.5 111.5L246.5 111.5L247.5 112.5L247.5 113.5L246.5 114.5L245.5 114.5L243.5 114.5L242.5 114.5L241.5 113.5M250.5 110.5L256.5 110.5L256.5 109.5L256.5 108.5L255.5 108.5L254.5 107.5L253.5 107.5L252.5 108.5L251.5 109.5L250.5 110.5L250.5 111.5L251.5 113.5L252.5 114.5L253.5 114.5L254.5 114.5L255.5 114.5L256.5 113.5" stroke="#000" />
<path d="M273.5 104.5L273.5 114.5M273.5 109.5L272.5 108.5L271.5 107.5L270.5 107.5L269.5 108.5L268.5 109.5L267.5 110.5L267.5 111.5L268.5 113.5L269.5 114.5L270.5 114.5L271.5 114.5L272.5 114.5L273.5 113.5M279.5 107.5L278.5 108.5L277.5 109.5L277.5 110.5L277.5 111.5L277.5 113.5L278.5 114.5L279.5 114.5L281.5 114.5L282.5 114.5L283.5 113.5L283.5 111.5L283.5 110.5L283.5 109.5L282.5 108.5L281.5 107.5L279.5 107.5M286.5 107.5L288.5 114.5M290.5 107.5L288.5 114.5M290.5 107.5L292.5 114.5M295.5 107.5L292.5 114.5M298.5 107.5L298.5 114.5M298.5 109.5L300.5 108.5L301.5 107.5L302.5 107.5L303.5 108.5L304.5 109.5L304.5 114.5M307.5 107.5L309.5 114.5M311.5 107.5L309.5 114.5M311.5 107.5L313.5 114.5M315.5 107.5L313.5 114.5M318.5 110.5L325.5 110.5L325.5 109.5L324.5 108.5L323.5 108.5L322.5 107.5L321.5 107.5L320.5 108.5L319.5 109.5L318.5 110.5L318.5 111.5L319.5 113.5L320.5 114.5L321.5 114.5L322.5 114.5L323.5 114.5L325.5 113.5M328.5 104.5L328.5 114.5M332.5 104.5L332.5 114.5M336.5 104.5L336.5 104.5L337.5 104.5L336.5 103.5L336.5 104.5M336.5 107.5L336.5 114.5M340.5 107.5L340.5 114.5M340.5 109.5L342.5 108.5L343.5 107.5L344.5 107.5L345.5 108.5L346.5 109.5L346.5 114.5M355.5 107.5L355.5 115.5L355.5 117.5L354.5 117.5L353.5 118.5L352.5 118.5L351.5 117.5M355.5 109.5L354.5 108.5L353.5 107.5L352.5 107.5L351.5 108.5L350.5 109.5L349.5 110.5L349.5 111.5L350.5 113.5L351.5 114.5L352.5 114.5L353.5 114.5L354.5 114.5L355.5 113.5" stroke="#000" />
<path d="M371.5 109.5L371.5 108.5L369.5 107.5L368.5 107.5L366.5 108.5L366.5 109.5L366.5 110.5L367.5 110.5L370.5 111.5L371.5 111.5L371.5 112.5L371.5 113.5L371.5 114.5L369.5 114.5L368.5 114.5L366.5 114.5L366.5 113.5M375.5 104.5L375.5 114.5M375.5 109.5L376.5 108.5L377.5 107.5L379.5 107.5L380.5 108.5L381.5 109.5L381.5 114.5M387.5 107.5L386.5 108.5L385.5 109.5L384.5 110.5L384.5 111.5L385.5 113.5L386.5 114.5L387.5 114.5L388.5 114.5L389.5 114.5L390.5 113.5L391.5 111.5L391.5 110.5L390.5 109.5L389.5 108.5L388.5 107.5L387.5 107.5M394.5 107.5L394.5 114.5M394.5 110.5L395.5 109.5L396.5 108.5L397.5 107.5L398.5 107.5M401.5 104.5L401.5 112.5L402.5 114.5L403.5 114.5L404.5 114.5M400.5 107.5L403.5 107.5M406.5 107.5L408.5 114.5M411.5 107.5L408.5 114.5M411.5 107.5L413.5 114.5M415.5 107.5L413.5 114.5M424.5 107.5L424.5 114.5M424.5 109.5L423.5 108.5L422.5 107.5L420.5 107.5L419.5 108.5L418.5 109.5L418.5 110.5L418.5 111.5L418.5 113.5L419.5 114.5L420.5 114.5L422.5 114.5L423.5 114.5L424.5 113.5M427.5 107.5L430.5 114.5M433.5 107.5L430.5 114.5M435.5 110.5L441.5 110.5L441.5 109.5L441.5 108.5L440.5 108.5L439.5 107.5L438.5 107.5L437.5 108.5L436.5 109.5L435.5 110.5L435.5 111.5L436.5 113.5L437.5 114.5L438.5 114.5L439.5 114.5L440.5 114.5L441.5 113.5" stroke="#000" />
<path d="M212.5 124.5L211.5 123.5L210.5 123.5L208.5 123.5L207.5 123.5L206.5 124.5L206.5 126.5L206.5 127.5L206.5 128.5L207.5 129.5L208.5 130.5L210.5 130.5L211.5 129.5L212.5 128.5M215.5 119.5L215.5 130.5M219.5 126.5L225.5 126.5L225.5 125.5L225.5 124.5L224.5 123.5L223.5 123.5L222.5 123.5L221.5 123.5L220.5 124.5L219.5 126.5L219.5 127.5L220.5 128.5L221.5 129.5L222.5 130.5L223.5 130.5L224.5 129.5L225.5 128.5M234.5 123.5L234.5 130.5M234.5 124.5L233.5 123.5L232.5 123.5L231.5 123.5L230.5 123.5L229.5 124.5L228.5 126.5L228.5 127.5L229.5 128.5L230.5 129.5L231.5 130.5L232.5 130.5L233.5 129.5L234.5 128.5M238.5 123.5L238.5 130.5M238.5 126.5L239.5 124.5L240.5 123.5L241.5 123.5L242.5 123.5M250.5 124.5L249.5 123.5L248.5 123.5L246.5 123.5L245.5 123.5L244.5 124.5L245.5 125.5L246.5 126.5L248.5 126.5L249.5 127.5L250.5 128.5L250.5 128.5L249.5 129.5L248.5 130.5L246.5 130.5L245.5 129.5L244.5 128.5M254.5 119.5L254.5 130.5M259.5 123.5L254.5 128.5M256.5 126.5L259.5 130.5M261.5 123.5L264.5 130.5M267.5 123.5L264.5 130.5L263.5 132.5L262.5 133.5L261.5 133.5L261.5 133.5" stroke="#0000ff" />
<path d="M284.5 119.5L284.5 130.5M284.5 124.5L283.5 123.5L282.5 123.5L281.5 123.5L280.5 123.5L279.5 124.5L278.5 126.5L278.5 127.5L279.5 128.5L280.5 129.5L281.5 130.5L282.5 130.5L283.5 129.5L284.5 128.5M288.5 119.5L288.5 120.5L289.5 119.5L288.5 119.5L288.5 119.5M288.5 123.5L288.5 130.5M296.5 119.5L295.5 119.5L294.5 120.5L293.5 121.5L293.5 130.5M292.5 123.5L295.5 123.5M302.5 119.5L301.5 119.5L300.5 120.5L299.5 121.5L299.5 130.5M298.5 123.5L301.5 123.5M305.5 123.5L305.5 128.5L305.5 129.5L306.5 130.5L308.5 130.5L309.5 129.5L310.5 128.5M310.5 123.5L310.5 130.5M319.5 124.5L319.5 123.5L317.5 123.5L316.5 123.5L314.5 123.5L314.5 124.5L314.5 125.5L315.5 126.5L318.5 126.5L319.5 127.5L319.5 128.5L319.5 128.5L319.5 129.5L317.5 130.5L316.5 130.5L314.5 129.5L314.5 128.5M322.5 126.5L329.5 126.5L329.5 125.5L328.5 124.5L328.5 123.5L327.5 123.5L325.5 123.5L324.5 123.5L323.5 124.5L322.5 126.5L322.5 127.5L323.5 128.5L324.5 129.5L325.5 130.5L327.5 130.5L328.5 129.5L329.5 128.5" stroke="#0000ff" />
<path d="M345.5 119.5L345.5 130.5M345.5 124.5L344.5 123.5L343.5 123.5L341.5 123.5L340.5 123.5L339.5 124.5L339.5 126.5L339.5 127.5L339.5 128.5L340.5 129.5L341.5 130.5L343.5 130.5L344.5 129.5L345.5 128.5M351.5 123.5L350.5 123.5L349.5 124.5L349.5 126.5L349.5 127.5L349.5 128.5L350.5 129.5L351.5 130.5L353.5 130.5L354.5 129.5L355.5 128.5L355.5 127.5L355.5 126.5L355.5 124.5L354.5 123.5L353.5 123.5L351.5 123.5M358.5 123.5L360.5 130.5M362.5 123.5L360.5 130.5M362.5 123.5L364.5 130.5M366.5 123.5L364.5 130.5M370.5 123.5L370.5 130.5M370.5 125.5L371.5 123.5L372.5 123.5L374.5 123.5L375.5 123.5L376.5 125.5L376.5 130.5M379.5 123.5L381.5 130.5M383.5 123.5L381.5 130.5M383.5 123.5L385.5 130.5M387.5 123.5L385.5 130.5M390.5 126.5L396.5 126.5L396.5 125.5L396.5 124.5L395.5 123.5L394.5 123.5L393.5 123.5L392.5 123.5L391.5 124.5L390.5 126.5L390.5 127.5L391.5 128.5L392.5 129.5L393.5 130.5L394.5 130.5L395.5 129.5L396.5 128.5M400.5 119.5L400.5 130.5M404.5 119.5L404.5 130.5M408.5 119.5L408.5 120.5L409.5 119.5L408.5 119.5L408.5 119.5M408.5 123.5L408.5 130.5M412.5 123.5L412.5 130.5M412.5 125.5L414.5 123.5L415.5 123.5L416.5 123.5L417.5 123.5L418.5 125.5L418.5 130.5M427.5 123.5L427.5 131.5L427.5 132.5L426.5 133.5L425.5 133.5L424.5 133.5L423.5 133.5M427.5 124.5L426.5 123.5L425.5 123.5L424.5 123.5L423.5 123.5L422.5 124.5L421.5 126.5L421.5 127.5L422.5 128.5L423.5 129.5L424.5 130.5L425.5 130.5L426.5 129.5L427.5 128.5" stroke="#0000ff" />
<path d="M444.5 124.5L443.5 123.5L442.5 123.5L440.5 123.5L438.5 123.5L438.5 124.5L438.5 125.5L439.5 126.5L442.5 126.5L443.5 127.5L444.5 128.5L444.5 128.5L443.5 129.5L442.5 130.5L440.5 130.5L438.5 129.5L438.5 128.5M447.5 119.5L447.5 130.5M447.5 125.5L449.5 123.5L450.5 123.5L451.5 123.5L452.5 123.5L453.5 125.5L453.5 130.5M459.5 123.5L458.5 123.5L457.5 124.5L456.5 126.5L456.5 127.5L457.5 128.5L458.5 129.5L459.5 130.5L460.5 130.5L461.5 129.5L462.5 128.5L463.5 127.5L463.5 126.5L462.5 124.5L461.5 123.5L460.5 123.5L459.5 123.5M466.5 123.5L466.5 130.5M466.5 126.5L467.5 124.5L468.5 123.5L469.5 123.5L470.5 123.5M474.5 119.5L474.5 128.5L474.5 129.5L475.5 130.5L476.5 130.5M472.5 123.5L476.5 123.5M479.5 123.5L481.5 130.5M483.5 123.5L481.5 130.5M483.5 123.5L485.5 130.5M487.5 123.5L485.5 130.5M496.5 123.5L496.5 130.5M496.5 124.5L495.5 123.5L494.5 123.5L492.5 123.5L491.5 123.5L490.5 124.5L490.5 126.5L490.5 127.5L490.5 128.5L491.5 129.5L492.5 130.5L494.5 130.5L495.5 129.5L496.5 128.5M499.5 123.5L502.5 130.5M505.5 123.5L502.5 130.5M508.5 126.5L514.5 126.5L514.5 125.5L513.5 124.5L513.5 123.5L512.5 123.5L510.5 123.5L509.5 123.5L508.5 124.5L508.5 126.5L508.5 127.5L508.5 128.5L509.5 129.5L510.5 130.5L512.5 130.5L513.5 129.5L514.5 128.5" stroke="#0000ff" />
<path d="M206.5 138.5L206.5 145.5M206.5 140.5L207.5 138.5L208.5 138.5L210.5 138.5L211.5 138.5L211.5 140.5L211.5 145.5M211.5 140.5L213.5 138.5L214.5 138.5L215.5 138.5L216.5 138.5L217.5 140.5L217.5 145.5M227.5 138.5L227.5 145.5M227.5 139.5L226.5 138.5L225.5 138.5L223.5 138.5L222.5 138.5L221.5 139.5L221.5 141.5L221.5 142.5L221.5 143.5L222.5 144.5L223.5 145.5L225.5 145.5L226.5 144.5L227.5 143.5M230.5 138.5L236.5 145.5M236.5 138.5L230.5 145.5M239.5 134.5L239.5 135.5L240.5 134.5L239.5 134.5L239.5 134.5M239.5 138.5L239.5 145.5M243.5 138.5L243.5 145.5M243.5 140.5L245.5 138.5L246.5 138.5L247.5 138.5L248.5 138.5L249.5 140.5L249.5 145.5M249.5 140.5L251.5 138.5L252.5 138.5L253.5 138.5L254.5 138.5L255.5 140.5L255.5 145.5M259.5 138.5L259.5 143.5L259.5 144.5L260.5 145.5L262.5 145.5L263.5 144.5L264.5 143.5M264.5 138.5L264.5 145.5M268.5 138.5L268.5 145.5M268.5 140.5L270.5 138.5L271.5 138.5L272.5 138.5L273.5 138.5L274.5 140.5L274.5 145.5M274.5 140.5L275.5 138.5L276.5 138.5L278.5 138.5L279.5 138.5L279.5 140.5L279.5 145.5" stroke="#b46800" />
<path d="M298.5 134.5L298.5 145.5M298.5 139.5L297.5 138.5L296.5 138.5L294.5 138.5L293.5 138.5L292.5 139.5L291.5 141.5L291.5 142.5L292.5 143.5L293.5 144.5L294.5 145.5L296.5 145.5L297.5 144.5L298.5 143.5M301.5 134.5L302.5 135.5L302.5 134.5L302.5 134.5L301.5 134.5M302.5 138.5L302.5 145.5M309.5 134.5L308.5 134.5L307.5 135.5L306.5 136.5L306.5 145.5M305.5 138.5L308.5 138.5M315.5 134.5L314.5 134.5L313.5 135.5L312.5 136.5L312.5 145.5M311.5 138.5L314.5 138.5M318.5 138.5L318.5 143.5L318.5 144.5L319.5 145.5L321.5 145.5L322.5 144.5L323.5 143.5M323.5 138.5L323.5 145.5M333.5 139.5L332.5 138.5L331.5 138.5L329.5 138.5L328.5 138.5L327.5 139.5L328.5 140.5L329.5 141.5L331.5 141.5L332.5 142.5L333.5 143.5L333.5 143.5L332.5 144.5L331.5 145.5L329.5 145.5L328.5 144.5L327.5 143.5M336.5 141.5L342.5 141.5L342.5 140.5L341.5 139.5L341.5 138.5L340.5 138.5L338.5 138.5L337.5 138.5L336.5 139.5L336.5 141.5L336.5 142.5L336.5 143.5L337.5 144.5L338.5 145.5L340.5 145.5L341.5 144.5L342.5 143.5" stroke="#b46800" />
<path d="M357.5 132.5L356.5 133.5L355.5 135.5L354.5 137.5L353.5 139.5L353.5 141.5L354.5 144.5L355.5 146.5L356.5 148.5L357.5 149.5M360.5 137.5L360.5 136.5L361.5 135.5L361.5 135.5L362.5 134.5L364.5 134.5L365.5 135.5L366.5 135.5L367.5 136.5L367.5 137.5L366.5 138.5L365.5 140.5L360.5 145.5L367.5 145.5M373.5 134.5L372.5 135.5L371.5 136.5L370.5 139.5L370.5 140.5L371.5 143.5L372.5 144.5L373.5 145.5L374.5 145.5L376.5 144.5L377.5 143.5L377.5 140.5L377.5 139.5L377.5 136.5L376.5 135.5L374.5 134.5L373.5 134.5M383.5 134.5L382.5 135.5L381.5 136.5L380.5 139.5L380.5 140.5L381.5 143.5L382.5 144.5L383.5 145.5L384.5 145.5L386.5 144.5L387.5 143.5L387.5 140.5L387.5 139.5L387.5 136.5L386.5 135.5L384.5 134.5L383.5 134.5" stroke="#b46800" />
<path d="M400.5 137.5L400.5 143.5M398.5 139.5L403.5 142.5M403.5 139.5L398.5 142.5" stroke="#b46800" />
<path d="M420.5 139.5L419.5 138.5L418.5 138.5L416.5 138.5L415.5 138.5L414.5 139.5L414.5 141.5L414.5 142.5L414.5 143.5L415.5 144.5L416.5 145.5L418.5 145.5L419.5 144.5L420.5 143.5M426.5 138.5L425.5 138.5L424.5 139.5L423.5 141.5L423.5 142.5L424.5 143.5L425.5 144.5L426.5 145.5L427.5 145.5L428.5 144.5L429.5 143.5L430.5 142.5L430.5 141.5L429.5 139.5L428.5 138.5L427.5 138.5L426.5 138.5M438.5 139.5L438.5 138.5L436.5 138.5L435.5 138.5L433.5 138.5L433.5 139.5L433.5 140.5L434.5 141.5L437.5 141.5L438.5 142.5L438.5 143.5L438.5 143.5L438.5 144.5L436.5 145.5L435.5 145.5L433.5 144.5L433.5 143.5M448.5 134.5L441.5 145.5M441.5 134.5L448.5 134.5M441.5 145.5L448.5 145.5" stroke="#b46800" />
<path d="M476.5 134.5L474.5 135.5L473.5 136.5L473.5 139.5L473.5 140.5L473.5 143.5L474.5 144.5L476.5 145.5L477.5 145.5L478.5 144.5L479.5 143.5L480.5 140.5L480.5 139.5L479.5 136.5L478.5 135.5L477.5 134.5L476.5 134.5M484.5 144.5L483.5 144.5L484.5 145.5L484.5 144.5L484.5 144.5M494.5 134.5L489.5 134.5L488.5 139.5L489.5 138.5L490.5 138.5L492.5 138.5L494.5 138.5L495.5 139.5L495.5 141.5L495.5 142.5L495.5 143.5L494.5 144.5L492.5 145.5L490.5 145.5L489.5 144.5L488.5 144.5L488.5 143.5M498.5 132.5L499.5 133.5L500.5 135.5L501.5 137.5L502.5 139.5L502.5 141.5L501.5 144.5L500.5 146.5L499.5 148.5L498.5 149.5" stroke="#b46800" />
<path d="M211.5 155.5L211.5 154.5L209.5 153.5L208.5 153.5L206.5 154.5L206.5 155.5L206.5 156.5L207.5 156.5L210.5 157.5L211.5 157.5L211.5 158.5L211.5 159.5L211.5 160.5L209.5 160.5L208.5 160.5L206.5 160.5L206.5 159.5M215.5 150.5L215.5 160.5M215.5 155.5L216.5 154.5L217.5 153.5L219.5 153.5L220.5 154.5L221.5 155.5L221.5 160.5M227.5 153.5L226.5 154.5L225.5 155.5L224.5 156.5L224.5 157.5L225.5 159.5L226.5 160.5L227.5 160.5L228.5 160.5L229.5 160.5L230.5 159.5L231.5 157.5L231.5 156.5L230.5 155.5L229.5 154.5L228.5 153.5L227.5 153.5M234.5 153.5L234.5 160.5M234.5 156.5L235.5 155.5L236.5 154.5L237.5 153.5L238.5 153.5M241.5 150.5L241.5 158.5L242.5 160.5L243.5 160.5L244.5 160.5M240.5 153.5L243.5 153.5M246.5 153.5L248.5 160.5M251.5 153.5L248.5 160.5M251.5 153.5L253.5 160.5M255.5 153.5L253.5 160.5M264.5 153.5L264.5 160.5M264.5 155.5L263.5 154.5L262.5 153.5L260.5 153.5L259.5 154.5L258.5 155.5L258.5 156.5L258.5 157.5L258.5 159.5L259.5 160.5L260.5 160.5L262.5 160.5L263.5 160.5L264.5 159.5M267.5 153.5L270.5 160.5M273.5 153.5L270.5 160.5M275.5 156.5L281.5 156.5L281.5 155.5L281.5 154.5L280.5 154.5L279.5 153.5L278.5 153.5L277.5 154.5L276.5 155.5L275.5 156.5L275.5 157.5L276.5 159.5L277.5 160.5L278.5 160.5L279.5 160.5L280.5 160.5L281.5 159.5" stroke="#ff0000" />
<path d="M299.5 155.5L298.5 154.5L297.5 153.5L295.5 153.5L294.5 154.5L293.5 155.5L293.5 156.5L293.5 157.5L293.5 159.5L294.5 160.5L295.5 160.5L297.5 160.5L298.5 160.5L299.5 159.5M302.5 150.5L302.5 160.5M306.5 156.5L312.5 156.5L312.5 155.5L311.5 154.5L311.5 154.5L310.5 153.5L308.5 153.5L307.5 154.5L306.5 155.5L306.5 156.5L306.5 157.5L306.5 159.5L307.5 160.5L308.5 160.5L310.5 160.5L311.5 160.5L312.5 159.5M321.5 153.5L321.5 160.5M321.5 155.5L320.5 154.5L319.5 153.5L318.5 153.5L317.5 154.5L316.5 155.5L315.5 156.5L315.5 157.5L316.5 159.5L317.5 160.5L318.5 160.5L319.5 160.5L320.5 160.5L321.5 159.5M325.5 153.5L325.5 160.5M325.5 156.5L326.5 155.5L327.5 154.5L328.5 153.5L329.5 153.5M337.5 155.5L336.5 154.5L335.5 153.5L333.5 153.5L332.5 154.5L331.5 155.5L332.5 156.5L333.5 156.5L335.5 157.5L336.5 157.5L337.5 158.5L337.5 159.5L336.5 160.5L335.5 160.5L333.5 160.5L332.5 160.5L331.5 159.5M340.5 150.5L340.5 160.5M346.5 153.5L340.5 158.5M342.5 156.5L346.5 160.5M348.5 153.5L351.5 160.5M354.5 153.5L351.5 160.5L350.5 162.5L349.5 163.5L348.5 164.5L348.5 164.5" stroke="#ff0000" />
<path d="M366.5 153.5L365.5 154.5L364.5 155.5L364.5 156.5L364.5 157.5L364.5 159.5L365.5 160.5L366.5 160.5L368.5 160.5L369.5 160.5L370.5 159.5L371.5 157.5L371.5 156.5L370.5 155.5L369.5 154.5L368.5 153.5L366.5 153.5M373.5 153.5L376.5 160.5M379.5 153.5L376.5 160.5M382.5 156.5L388.5 156.5L388.5 155.5L387.5 154.5L387.5 154.5L386.5 153.5L384.5 153.5L383.5 154.5L382.5 155.5L382.5 156.5L382.5 157.5L382.5 159.5L383.5 160.5L384.5 160.5L386.5 160.5L387.5 160.5L388.5 159.5M391.5 153.5L391.5 160.5M391.5 156.5L392.5 155.5L393.5 154.5L394.5 153.5L395.5 153.5M398.5 150.5L398.5 160.5M408.5 153.5L408.5 160.5M408.5 155.5L407.5 154.5L406.5 153.5L404.5 153.5L403.5 154.5L402.5 155.5L402.5 156.5L402.5 157.5L402.5 159.5L403.5 160.5L404.5 160.5L406.5 160.5L407.5 160.5L408.5 159.5M411.5 153.5L414.5 160.5M417.5 153.5L414.5 160.5L413.5 162.5L412.5 163.5L411.5 164.5L410.5 164.5M419.5 156.5L425.5 156.5L425.5 155.5L425.5 154.5L424.5 154.5L423.5 153.5L422.5 153.5L421.5 154.5L420.5 155.5L419.5 156.5L419.5 157.5L420.5 159.5L421.5 160.5L422.5 160.5L423.5 160.5L424.5 160.5L425.5 159.5M435.5 150.5L435.5 160.5M435.5 155.5L434.5 154.5L433.5 153.5L431.5 153.5L430.5 154.5L429.5 155.5L428.5 156.5L428.5 157.5L429.5 159.5L430.5 160.5L431.5 160.5L433.5 160.5L434.5 160.5L435.5 159.5" stroke="#ff0000" />
<path d="M448.5 153.5L447.5 154.5L446.5 155.5L446.5 156.5L446.5 157.5L446.5 159.5L447.5 160.5L448.5 160.5L450.5 160.5L451.5 160.5L452.5 159.5L452.5 157.5L452.5 156.5L452.5 155.5L451.5 154.5L450.5 153.5L448.5 153.5M456.5 153.5L456.5 160.5M456.5 155.5L457.5 154.5L458.5 153.5L460.5 153.5L461.5 154.5L462.5 155.5L462.5 160.5" stroke="#ff0000" />
<path d="M479.5 150.5L479.5 160.5M479.5 155.5L478.5 154.5L477.5 153.5L476.5 153.5L475.5 154.5L474.5 155.5L473.5 156.5L473.5 157.5L474.5 159.5L475.5 160.5L476.5 160.5L477.5 160.5L478.5 160.5L479.5 159.5M483.5 150.5L483.5 150.5L484.5 150.5L483.5 149.5L483.5 150.5M483.5 153.5L483.5 160.5M491.5 150.5L490.5 150.5L489.5 150.5L488.5 152.5L488.5 160.5M487.5 153.5L490.5 153.5M497.5 150.5L496.5 150.5L495.5 150.5L494.5 152.5L494.5 160.5M493.5 153.5L496.5 153.5M500.5 153.5L500.5 158.5L500.5 160.5L501.5 160.5L503.5 160.5L504.5 160.5L505.5 158.5M505.5 153.5L505.5 160.5M514.5 155.5L514.5 154.5L512.5 153.5L511.5 153.5L509.5 154.5L509.5 155.5L509.5 156.5L510.5 156.5L513.5 157.5L514.5 157.5L514.5 158.5L514.5 159.5L514.5 160.5L512.5 160.5L511.5 160.5L509.5 160.5L509.5 159.5M517.5 156.5L524.5 156.5L524.5 155.5L523.5 154.5L523.5 154.5L522.5 153.5L520.5 153.5L519.5 154.5L518.5 155.5L517.5 156.5L517.5 157.5L518.5 159.5L519.5 160.5L520.5 160.5L522.5 160.5L523.5 160.5L524.5 159.5" stroke="#ff0000" />
<path d="M457.5 140.5L458.5 140.5L460.5 137.5L463.5 140.5" stroke="#b46800"/>
<path d="M506 130h3v1h-3zM507 129h1v3h-1zM505 136h3v1h-3zM506 135h1v3h-1zM503 164h3v1h-3zM504 163h1v3h-1zM495 191h3v1h-3zM496 190h1v3h-1zM477 204h3v1h-3zM478 203h1v3h-1zM479 202h3v1h-3zM480 201h1v3h-1zM494 205h3v1h-3zM495 204h1v3h-1zM497 208h3v1h-3zM498 207h1v3h-1zM492 213h3v1h-3zM493 212h1v3h-1zM490 227h3v1h-3zM491 226h1v3h-1zM502 225h3v1h-3zM503 224h1v3h-1zM508 156h3v1h-3zM509 155h1v3h-1zM545 158h3v1h-3zM546 157h1v3h-1zM515 169h3v1h-3zM516 168h1v3h-1zM546 181h3v1h-3zM547 180h1v3h-1zM509 185h3v1h-3zM510 184h1v3h-1zM514 192h3v1h-3zM515 191h1v3h-1zM544 192h3v1h-3zM545 191h1v3h-1zM554 193h3v1h-3zM555 192h1v3h-1zM563 191h3v1h-3zM564 190h1v3h-1zM548 198h3v1h-3zM549 197h1v3h-1zM555 198h3v1h-3zM556 197h1v3h-1zM562 197h3v1h-3zM563 196h1v3h-1zM512 201h3v1h-3zM513 200h1v3h-1zM561 203h3v1h-3zM562 202h1v3h-1zM517 207h3v1h-3zM518 206h1v3h-1zM552 208h3v1h-3zM553 207h1v3h-1zM543 211h3v1h-3zM544 210h1v3h-1zM551 212h3v1h-3zM552 211h1v3h-1zM511 219h3v1h-3zM512 218h1v3h-1zM564 219h3v1h-3zM565 218h1v3h-1zM541 223h3v1h-3zM542 222h1v3h-1zM549 227h3v1h-3zM550 226h1v3h-1zM559 233h3v1h-3zM560 232h1v3h-1zM476 243h3v1h-3zM477 242h1v3h-1zM498 246h3v1h-3zM499 245h1v3h-1zM474 260h3v1h-3zM475 259h1v3h-1zM481 258h3v1h-3zM482 257h1v3h-1zM500 258h3v1h-3zM501 257h1v3h-1zM489 282h3v1h-3zM490 281h1v3h-1zM472 294h3v1h-3zM473 293h1v3h-1zM462 297h3v1h-3zM463 296h1v3h-1zM464 305h3v1h-3zM465 304h1v3h-1zM487 309h3v1h-3zM488 308h1v3h-1zM460 316h3v1h-3zM461 315h1v3h-1zM465 317h3v1h-3zM466 316h1v3h-1zM469 320h3v1h-3zM470 319h1v3h-1zM471 322h3v1h-3zM472 321h1v3h-1zM482 316h3v1h-3zM483 315h1v3h-1zM486 323h3v1h-3zM487 322h1v3h-1zM467 327h3v1h-3zM468 326h1v3h-1zM550 237h3v1h-3zM551 236h1v3h-1zM533 247h3v1h-3zM534 246h1v3h-1zM556 256h3v1h-3zM557 255h1v3h-1zM540 263h3v1h-3zM541 262h1v3h-1zM572 265h3v1h-3zM573 264h1v3h-1zM565 268h3v1h-3zM566 267h1v3h-1zM518 271h3v1h-3zM519 270h1v3h-1zM532 271h3v1h-3zM533 270h1v3h-1zM535 270h3v1h-3zM536 269h1v3h-1zM539 271h3v1h-3zM540 270h1v3h-1zM537 274h3v1h-3zM538 273h1v3h-1zM519 276h3v1h-3zM520 275h1v3h-1zM558 281h3v1h-3zM559 280h1v3h-1zM557 283h3v1h-3zM558 282h1v3h-1zM524 286h3v1h-3zM525 285h1v3h-1zM525 288h3v1h-3zM526 287h1v3h-1zM536 290h3v1h-3zM537 289h1v3h-1zM571 291h3v1h-3zM572 290h1v3h-1zM531 294h3v1h-3zM532 293h1v3h-1zM521 300h3v1h-3zM522 299h1v3h-1zM522 299h3v1h-3zM523 298h1v3h-1zM527 304h3v1h-3zM528 303h1v3h-1zM528 311h3v1h-3zM529 310h1v3h-1zM529 312h3v1h-3zM530 311h1v3h-1zM566 310h3v1h-3zM567 309h1v3h-1zM573 315h3v1h-3zM574 314h1v3h-1zM577 327h3v1h-3zM578 326h1v3h-1zM599 322h3v1h-3zM600 321h1v3h-1zM599 327h3v1h-3zM600 326h1v3h-1zM600 328h3v1h-3zM601 327h1v3h-1zM601 330h3v1h-3zM602 329h1v3h-1zM610 317h3v1h-3zM611 316h1v3h-1zM611 319h3v1h-3zM612 318h1v3h-1zM610 323h3v1h-3zM611 322h1v3h-1zM611 324h3v1h-3zM612 323h1v3h-1zM595 331h3v1h-3zM596 330h1v3h-1zM595 330h3v1h-3zM596 329h1v3h-1zM596 332h3v1h-3zM597 331h1v3h-1zM597 333h3v1h-3zM598 332h1v3h-1zM598 333h3v1h-3zM599 332h1v3h-1zM594 335h3v1h-3zM595 334h1v3h-1zM601 335h3v1h-3zM602 334h1v3h-1zM457 335h3v1h-3zM458 334h1v3h-1zM458 337h3v1h-3zM459 336h1v3h-1zM455 338h3v1h-3zM456 337h1v3h-1zM484 337h3v1h-3zM485 336h1v3h-1zM453 351h3v1h-3zM454 350h1v3h-1zM438 364h3v1h-3zM439 363h1v3h-1zM440 362h3v1h-3zM441 361h1v3h-1zM451 382h3v1h-3zM452 381h1v3h-1zM442 385h3v1h-3zM443 384h1v3h-1zM444 393h3v1h-3zM445 392h1v3h-1zM446 402h3v1h-3zM447 401h1v3h-1zM437 406h3v1h-3zM438 405h1v3h-1zM448 419h3v1h-3zM449 418h1v3h-1zM449 419h3v1h-3zM450 418h1v3h-1zM569 334h3v1h-3zM570 333h1v3h-1zM570 339h3v1h-3zM571 338h1v3h-1zM567 343h3v1h-3zM568 342h1v3h-1zM568 344h3v1h-3zM569 343h1v3h-1zM579 342h3v1h-3zM580 341h1v3h-1zM578 344h3v1h-3zM579 343h1v3h-1zM576 347h3v1h-3zM577 346h1v3h-1zM593 344h3v1h-3zM594 343h1v3h-1zM609 350h3v1h-3zM610 349h1v3h-1zM612 354h3v1h-3zM613 353h1v3h-1zM602 352h3v1h-3zM603 351h1v3h-1zM603 355h3v1h-3zM604 354h1v3h-1zM593 358h3v1h-3zM594 357h1v3h-1zM603 359h3v1h-3zM604 358h1v3h-1zM604 361h3v1h-3zM605 360h1v3h-1zM574 361h3v1h-3zM575 360h1v3h-1zM580 367h3v1h-3zM581 366h1v3h-1zM605 368h3v1h-3zM606 367h1v3h-1zM575 374h3v1h-3zM576 373h1v3h-1zM592 374h3v1h-3zM593 373h1v3h-1zM609 374h3v1h-3zM610 373h1v3h-1zM612 373h3v1h-3zM613 372h1v3h-1zM606 389h3v1h-3zM607 388h1v3h-1zM590 392h3v1h-3zM591 391h1v3h-1zM612 393h3v1h-3zM613 392h1v3h-1zM607 398h3v1h-3zM608 397h1v3h-1zM615 401h3v1h-3zM616 400h1v3h-1zM581 404h3v1h-3zM582 403h1v3h-1zM589 403h3v1h-3zM590 402h1v3h-1zM607 407h3v1h-3zM608 406h1v3h-1zM608 406h3v1h-3zM609 405h1v3h-1zM614 409h3v1h-3zM615 408h1v3h-1zM589 411h3v1h-3zM590 410h1v3h-1zM608 414h3v1h-3zM609 413h1v3h-1zM588 418h3v1h-3zM589 417h1v3h-1zM602 417h3v1h-3zM603 416h1v3h-1zM608 419h3v1h-3zM609 418h1v3h-1zM605 421h3v1h-3zM606 420h1v3h-1zM605 422h3v1h-3zM606 421h1v3h-1zM587 424h3v1h-3zM588 423h1v3h-1zM608 423h3v1h-3zM609 422h1v3h-1zM609 424h3v1h-3zM610 423h1v3h-1zM610 425h3v1h-3zM611 424h1v3h-1zM607 425h3v1h-3zM608 424h1v3h-1zM614 424h3v1h-3zM615 423h1v3h-1zM602 426h3v1h-3zM603 425h1v3h-1zM604 426h3v1h-3zM605 425h1v3h-1zM614 430h3v1h-3zM615 429h1v3h-1zM610 431h3v1h-3zM611 430h1v3h-1zM612 432h3v1h-3zM613 431h1v3h-1zM613 434h3v1h-3zM614 433h1v3h-1zM586 434h3v1h-3zM587 433h1v3h-1zM595 434h3v1h-3zM596 433h1v3h-1zM596 437h3v1h-3zM597 436h1v3h-1zM600 436h3v1h-3zM601 435h1v3h-1zM601 436h3v1h-3zM602 435h1v3h-1zM600 439h3v1h-3zM601 438h1v3h-1zM606 434h3v1h-3zM607 433h1v3h-1zM606 436h3v1h-3zM607 435h1v3h-1zM604 441h3v1h-3zM605 440h1v3h-1zM585 440h3v1h-3zM586 439h1v3h-1zM599 444h3v1h-3zM600 443h1v3h-1zM612 443h3v1h-3zM613 442h1v3h-1zM611 444h3v1h-3zM612 443h1v3h-1zM566 510h3v1h-3zM567 509h1v3h-1zM567 504h3v1h-3zM568 503h1v3h-1zM568 498h3v1h-3zM569 497h1v3h-1zM569 492h3v1h-3zM570 491h1v3h-1zM570 486h3v1h-3zM571 485h1v3h-1zM571 477h3v1h-3zM572 476h1v3h-1zM572 471h3v1h-3zM573 470h1v3h-1zM573 461h3v1h-3zM574 460h1v3h-1zM574 454h3v1h-3zM575 453h1v3h-1zM575 447h3v1h-3zM576 446h1v3h-1zM576 442h3v1h-3zM577 441h1v3h-1zM577 439h3v1h-3zM578 438h1v3h-1zM578 436h3v1h-3zM579 435h1v3h-1zM579 440h3v1h-3zM580 439h1v3h-1zM581 440h3v1h-3zM582 439h1v3h-1zM582 442h3v1h-3zM583 441h1v3h-1zM583 441h3v1h-3zM584 440h1v3h-1zM582 444h3v1h-3zM583 443h1v3h-1zM583 445h3v1h-3zM584 444h1v3h-1zM584 449h3v1h-3zM585 448h1v3h-1zM595 464h3v1h-3zM596 463h1v3h-1zM585 470h3v1h-3zM586 469h1v3h-1zM598 470h3v1h-3zM599 469h1v3h-1zM597 471h3v1h-3zM598 470h1v3h-1zM594 473h3v1h-3zM595 472h1v3h-1zM592 477h3v1h-3zM593 476h1v3h-1zM593 478h3v1h-3zM594 477h1v3h-1zM592 480h3v1h-3zM593 479h1v3h-1zM591 483h3v1h-3zM592 482h1v3h-1zM586 482h3v1h-3zM587 481h1v3h-1zM588 481h3v1h-3zM589 480h1v3h-1zM587 483h3v1h-3zM588 482h1v3h-1zM589 484h3v1h-3zM590 483h1v3h-1zM587 485h3v1h-3zM588 484h1v3h-1zM590 484h3v1h-3zM591 483h1v3h-1zM590 483h3v1h-3zM591 482h1v3h-1zM600 437h3v1h-3zM601 436h1v3h-1zM601 437h3v1h-3zM602 436h1v3h-1zM598 446h3v1h-3zM599 445h1v3h-1zM599 445h3v1h-3zM600 444h1v3h-1zM603 447h3v1h-3zM604 446h1v3h-1zM612 433h3v1h-3zM613 432h1v3h-1zM611 445h3v1h-3zM612 444h1v3h-1zM613 447h3v1h-3zM614 446h1v3h-1zM612 451h3v1h-3zM613 450h1v3h-1zM615 451h3v1h-3zM616 450h1v3h-1zM613 455h3v1h-3zM614 454h1v3h-1zM613 459h3v1h-3zM614 458h1v3h-1zM613 464h3v1h-3zM614 463h1v3h-1zM614 469h3v1h-3zM615 468h1v3h-1zM615 471h3v1h-3zM616 470h1v3h-1zM615 473h3v1h-3zM616 472h1v3h-1zM615 476h3v1h-3zM616 475h1v3h-1zM615 479h3v1h-3zM616 478h1v3h-1zM616 482h3v1h-3zM617 481h1v3h-1zM616 484h3v1h-3zM617 483h1v3h-1zM616 487h3v1h-3zM617 486h1v3h-1zM617 490h3v1h-3zM618 489h1v3h-1zM617 493h3v1h-3zM618 492h1v3h-1zM618 496h3v1h-3zM619 495h1v3h-1zM618 499h3v1h-3zM619 498h1v3h-1zM618 502h3v1h-3zM619 501h1v3h-1zM619 505h3v1h-3zM620 504h1v3h-1zM619 508h3v1h-3zM620 507h1v3h-1zM617 486h3v1h-3zM618 485h1v3h-1zM618 492h3v1h-3zM619 491h1v3h-1zM617 497h3v1h-3zM618 496h1v3h-1zM621 454h3v1h-3zM622 453h1v3h-1zM621 456h3v1h-3zM622 455h1v3h-1zM620 458h3v1h-3zM621 457h1v3h-1zM618 460h3v1h-3zM619 459h1v3h-1zM621 460h3v1h-3zM622 459h1v3h-1zM619 464h3v1h-3zM620 463h1v3h-1zM621 465h3v1h-3zM622 464h1v3h-1zM618 468h3v1h-3zM619 467h1v3h-1zM621 468h3v1h-3zM622 467h1v3h-1zM620 470h3v1h-3zM621 469h1v3h-1zM621 470h3v1h-3zM622 469h1v3h-1zM618 473h3v1h-3zM619 472h1v3h-1zM619 475h3v1h-3zM620 474h1v3h-1zM620 477h3v1h-3zM621 476h1v3h-1zM618 478h3v1h-3zM619 477h1v3h-1zM621 477h3v1h-3zM622 476h1v3h-1zM621 485h3v1h-3zM622 484h1v3h-1zM620 487h3v1h-3zM621 486h1v3h-1zM618 489h3v1h-3zM619 488h1v3h-1zM620 491h3v1h-3zM621 490h1v3h-1zM621 493h3v1h-3zM622 492h1v3h-1zM620 495h3v1h-3zM621 494h1v3h-1zM621 497h3v1h-3zM622 496h1v3h-1zM619 499h3v1h-3zM620 498h1v3h-1zM620 501h3v1h-3zM621 500h1v3h-1zM619 503h3v1h-3zM620 502h1v3h-1zM620 505h3v1h-3zM621 504h1v3h-1zM619 507h3v1h-3zM620 506h1v3h-1zM621 481h3v1h-3zM622 480h1v3h-1zM622 489h3v1h-3zM623 488h1v3h-1zM621 500h3v1h-3zM622 499h1v3h-1zM435 444h3v1h-3zM436 443h1v3h-1zM433 476h3v1h-3zM434 475h1v3h-1zM429 480h3v1h-3zM430 479h1v3h-1zM427 483h3v1h-3zM428 482h1v3h-1zM431 483h3v1h-3zM432 482h1v3h-1zM432 476h3v1h-3zM433 475h1v3h-1zM265 631h3v1h-3zM266 630h1v3h-1zM267 626h3v1h-3zM268 625h1v3h-1zM270 621h3v1h-3zM271 620h1v3h-1zM272 615h3v1h-3zM273 614h1v3h-1zM274 608h3v1h-3zM275 607h1v3h-1zM277 601h3v1h-3zM278 600h1v3h-1zM279 594h3v1h-3zM280 593h1v3h-1zM281 589h3v1h-3zM282 588h1v3h-1zM284 582h3v1h-3zM285 581h1v3h-1zM286 575h3v1h-3zM287 574h1v3h-1zM288 569h3v1h-3zM289 568h1v3h-1zM291 562h3v1h-3zM292 561h1v3h-1zM293 555h3v1h-3zM294 554h1v3h-1zM295 549h3v1h-3zM296 548h1v3h-1zM298 543h3v1h-3zM299 542h1v3h-1zM301 537h3v1h-3zM302 536h1v3h-1zM302 533h3v1h-3zM303 532h1v3h-1zM304 531h3v1h-3zM305 530h1v3h-1zM306 529h3v1h-3zM307 528h1v3h-1zM308 527h3v1h-3zM309 526h1v3h-1zM310 525h3v1h-3zM311 524h1v3h-1zM312 522h3v1h-3zM313 521h1v3h-1zM314 520h3v1h-3zM315 519h1v3h-1zM316 517h3v1h-3zM317 516h1v3h-1zM318 511h3v1h-3zM319 510h1v3h-1zM320 508h3v1h-3zM321 507h1v3h-1zM322 505h3v1h-3zM323 504h1v3h-1zM325 502h3v1h-3zM326 501h1v3h-1zM327 499h3v1h-3zM328 498h1v3h-1zM329 499h3v1h-3zM330 498h1v3h-1zM331 503h3v1h-3zM332 502h1v3h-1zM334 502h3v1h-3zM335 501h1v3h-1zM336 501h3v1h-3zM337 500h1v3h-1zM338 504h3v1h-3zM339 503h1v3h-1zM340 508h3v1h-3zM341 507h1v3h-1zM341 512h3v1h-3zM342 511h1v3h-1zM343 514h3v1h-3zM344 513h1v3h-1zM344 516h3v1h-3zM345 515h1v3h-1zM347 515h3v1h-3zM348 514h1v3h-1zM349 511h3v1h-3zM350 510h1v3h-1zM351 505h3v1h-3zM352 504h1v3h-1zM353 492h3v1h-3zM354 491h1v3h-1zM355 487h3v1h-3zM356 486h1v3h-1zM357 487h3v1h-3zM358 486h1v3h-1zM360 489h3v1h-3zM361 488h1v3h-1zM362 493h3v1h-3zM363 492h1v3h-1zM364 499h3v1h-3zM365 498h1v3h-1zM366 502h3v1h-3zM367 501h1v3h-1zM368 503h3v1h-3zM369 502h1v3h-1zM370 505h3v1h-3zM371 504h1v3h-1zM372 503h3v1h-3zM373 502h1v3h-1zM374 499h3v1h-3zM375 498h1v3h-1zM376 492h3v1h-3zM377 491h1v3h-1zM378 489h3v1h-3zM379 488h1v3h-1zM389 482h3v1h-3zM390 481h1v3h-1zM395 484h3v1h-3zM396 483h1v3h-1zM397 490h3v1h-3zM398 489h1v3h-1zM399 498h3v1h-3zM400 497h1v3h-1zM401 507h3v1h-3zM402 506h1v3h-1zM403 514h3v1h-3zM404 513h1v3h-1zM405 519h3v1h-3zM406 518h1v3h-1zM407 527h3v1h-3zM408 526h1v3h-1zM410 530h3v1h-3zM411 529h1v3h-1zM408 533h3v1h-3zM409 532h1v3h-1zM409 534h3v1h-3zM410 533h1v3h-1zM406 537h3v1h-3zM407 536h1v3h-1zM413 535h3v1h-3zM414 534h1v3h-1zM411 537h3v1h-3zM412 536h1v3h-1zM404 542h3v1h-3zM405 541h1v3h-1zM425 492h3v1h-3zM426 491h1v3h-1zM423 497h3v1h-3zM424 496h1v3h-1zM421 502h3v1h-3zM422 501h1v3h-1zM420 506h3v1h-3zM421 505h1v3h-1zM419 509h3v1h-3zM420 508h1v3h-1zM422 509h3v1h-3zM423 508h1v3h-1zM424 509h3v1h-3zM425 508h1v3h-1zM426 508h3v1h-3zM427 507h1v3h-1zM420 512h3v1h-3zM421 511h1v3h-1zM418 517h3v1h-3zM419 516h1v3h-1zM416 519h3v1h-3zM417 518h1v3h-1zM417 521h3v1h-3zM418 520h1v3h-1zM414 522h3v1h-3zM415 521h1v3h-1zM412 525h3v1h-3zM413 524h1v3h-1zM415 527h3v1h-3zM416 526h1v3h-1zM428 514h3v1h-3zM429 513h1v3h-1zM430 522h3v1h-3zM431 521h1v3h-1zM432 523h3v1h-3zM433 522h1v3h-1zM434 519h3v1h-3zM435 518h1v3h-1zM437 521h3v1h-3zM438 520h1v3h-1zM436 513h3v1h-3zM437 512h1v3h-1zM439 515h3v1h-3zM440 514h1v3h-1zM440 513h3v1h-3zM441 512h1v3h-1zM443 513h3v1h-3zM444 512h1v3h-1zM444 514h3v1h-3zM445 513h1v3h-1zM446 514h3v1h-3zM447 513h1v3h-1zM447 515h3v1h-3zM448 514h1v3h-1zM449 523h3v1h-3zM450 522h1v3h-1zM452 524h3v1h-3zM453 523h1v3h-1zM450 529h3v1h-3zM451 528h1v3h-1zM454 518h3v1h-3zM455 517h1v3h-1zM456 520h3v1h-3zM457 519h1v3h-1zM457 526h3v1h-3zM458 525h1v3h-1zM459 534h3v1h-3zM460 533h1v3h-1zM461 541h3v1h-3zM462 540h1v3h-1zM463 542h3v1h-3zM464 541h1v3h-1zM464 533h3v1h-3zM465 532h1v3h-1zM466 531h3v1h-3zM467 530h1v3h-1zM483 517h3v1h-3zM484 516h1v3h-1zM165 687h3v1h-3zM166 686h1v3h-1zM167 684h3v1h-3zM168 683h1v3h-1zM170 683h3v1h-3zM171 682h1v3h-1zM172 681h3v1h-3zM173 680h1v3h-1zM175 680h3v1h-3zM176 679h1v3h-1zM177 680h3v1h-3zM178 679h1v3h-1zM180 680h3v1h-3zM181 679h1v3h-1zM182 679h3v1h-3zM183 678h1v3h-1zM185 679h3v1h-3zM186 678h1v3h-1zM187 678h3v1h-3zM188 677h1v3h-1zM190 679h3v1h-3zM191 678h1v3h-1zM192 679h3v1h-3zM193 678h1v3h-1zM195 679h3v1h-3zM196 678h1v3h-1zM198 679h3v1h-3zM199 678h1v3h-1zM200 677h3v1h-3zM201 676h1v3h-1zM203 676h3v1h-3zM204 675h1v3h-1zM205 675h3v1h-3zM206 674h1v3h-1zM208 673h3v1h-3zM209 672h1v3h-1zM210 672h3v1h-3zM211 671h1v3h-1zM212 670h3v1h-3zM213 669h1v3h-1zM215 669h3v1h-3zM216 668h1v3h-1zM217 667h3v1h-3zM218 666h1v3h-1zM220 666h3v1h-3zM221 665h1v3h-1zM222 665h3v1h-3zM223 664h1v3h-1zM225 664h3v1h-3zM226 663h1v3h-1zM227 662h3v1h-3zM228 661h1v3h-1zM230 662h3v1h-3zM231 661h1v3h-1zM232 661h3v1h-3zM233 660h1v3h-1zM235 660h3v1h-3zM236 659h1v3h-1zM237 659h3v1h-3zM238 658h1v3h-1zM240 658h3v1h-3zM241 657h1v3h-1zM242 655h3v1h-3zM243 654h1v3h-1zM244 649h3v1h-3zM245 648h1v3h-1zM247 647h3v1h-3zM248 646h1v3h-1zM249 645h3v1h-3zM250 644h1v3h-1zM252 644h3v1h-3zM253 643h1v3h-1zM254 643h3v1h-3zM255 642h1v3h-1zM257 642h3v1h-3zM258 641h1v3h-1zM259 640h3v1h-3zM260 639h1v3h-1zM261 638h3v1h-3zM262 637h1v3h-1zM264 636h3v1h-3zM265 635h1v3h-1zM266 635h3v1h-3zM267 634h1v3h-1zM269 633h3v1h-3zM270 632h1v3h-1zM271 632h3v1h-3zM272 631h1v3h-1zM273 631h3v1h-3zM274 630h1v3h-1zM276 630h3v1h-3zM277 629h1v3h-1zM278 629h3v1h-3zM279 628h1v3h-1zM280 628h3v1h-3zM281 627h1v3h-1zM283 627h3v1h-3zM284 626h1v3h-1zM285 626h3v1h-3zM286 625h1v3h-1zM287 624h3v1h-3zM288 623h1v3h-1zM290 623h3v1h-3zM291 622h1v3h-1zM292 621h3v1h-3zM293 620h1v3h-1zM294 619h3v1h-3zM295 618h1v3h-1zM297 618h3v1h-3zM298 617h1v3h-1zM299 617h3v1h-3zM300 616h1v3h-1zM301 616h3v1h-3zM302 615h1v3h-1zM304 615h3v1h-3zM305 614h1v3h-1zM306 613h3v1h-3zM307 612h1v3h-1zM308 611h3v1h-3zM309 610h1v3h-1zM311 610h3v1h-3zM312 609h1v3h-1zM313 609h3v1h-3zM314 608h1v3h-1zM315 608h3v1h-3zM316 607h1v3h-1zM318 606h3v1h-3zM319 605h1v3h-1zM320 606h3v1h-3zM321 605h1v3h-1zM322 605h3v1h-3zM323 604h1v3h-1zM324 603h3v1h-3zM325 602h1v3h-1zM327 602h3v1h-3zM328 601h1v3h-1zM329 601h3v1h-3zM330 600h1v3h-1zM331 600h3v1h-3zM332 599h1v3h-1zM333 598h3v1h-3zM334 597h1v3h-1zM336 597h3v1h-3zM337 596h1v3h-1zM338 596h3v1h-3zM339 595h1v3h-1zM340 595h3v1h-3zM341 594h1v3h-1zM342 594h3v1h-3zM343 593h1v3h-1zM344 593h3v1h-3zM345 592h1v3h-1zM347 592h3v1h-3zM348 591h1v3h-1zM349 591h3v1h-3zM350 590h1v3h-1zM351 589h3v1h-3zM352 588h1v3h-1zM353 588h3v1h-3zM354 587h1v3h-1zM355 587h3v1h-3zM356 586h1v3h-1zM358 586h3v1h-3zM359 585h1v3h-1zM360 585h3v1h-3zM361 584h1v3h-1zM362 584h3v1h-3zM363 583h1v3h-1zM364 582h3v1h-3zM365 581h1v3h-1zM366 581h3v1h-3zM367 580h1v3h-1zM368 580h3v1h-3zM369 579h1v3h-1zM370 578h3v1h-3zM371 577h1v3h-1zM373 576h3v1h-3zM374 575h1v3h-1zM375 575h3v1h-3zM376 574h1v3h-1zM377 573h3v1h-3zM378 572h1v3h-1zM379 571h3v1h-3zM380 570h1v3h-1zM381 569h3v1h-3zM382 568h1v3h-1zM383 568h3v1h-3zM384 567h1v3h-1zM385 567h3v1h-3zM386 566h1v3h-1zM387 566h3v1h-3zM388 565h1v3h-1zM389 564h3v1h-3zM390 563h1v3h-1zM391 562h3v1h-3zM392 561h1v3h-1zM394 559h3v1h-3zM395 558h1v3h-1zM396 556h3v1h-3zM397 555h1v3h-1zM398 554h3v1h-3zM399 553h1v3h-1zM400 550h3v1h-3zM401 549h1v3h-1zM402 546h3v1h-3zM403 545h1v3h-1zM166 687h3v1h-3zM167 686h1v3h-1zM168 686h3v1h-3zM169 685h1v3h-1zM171 685h3v1h-3zM172 684h1v3h-1zM174 685h3v1h-3zM175 684h1v3h-1zM176 684h3v1h-3zM177 683h1v3h-1zM179 683h3v1h-3zM180 682h1v3h-1zM181 682h3v1h-3zM182 681h1v3h-1zM184 681h3v1h-3zM185 680h1v3h-1zM186 681h3v1h-3zM187 680h1v3h-1zM189 680h3v1h-3zM190 679h1v3h-1zM191 680h3v1h-3zM192 679h1v3h-1zM194 679h3v1h-3zM195 678h1v3h-1zM196 678h3v1h-3zM197 677h1v3h-1zM199 677h3v1h-3zM200 676h1v3h-1zM201 676h3v1h-3zM202 675h1v3h-1zM204 674h3v1h-3zM205 673h1v3h-1zM206 673h3v1h-3zM207 672h1v3h-1zM209 672h3v1h-3zM210 671h1v3h-1zM211 670h3v1h-3zM212 669h1v3h-1zM214 668h3v1h-3zM215 667h1v3h-1zM216 666h3v1h-3zM217 665h1v3h-1zM219 665h3v1h-3zM220 664h1v3h-1zM221 664h3v1h-3zM222 663h1v3h-1zM224 663h3v1h-3zM225 662h1v3h-1zM226 662h3v1h-3zM227 661h1v3h-1zM228 661h3v1h-3zM229 660h1v3h-1zM231 660h3v1h-3zM232 659h1v3h-1zM233 659h3v1h-3zM234 658h1v3h-1zM236 657h3v1h-3zM237 656h1v3h-1zM238 656h3v1h-3zM239 655h1v3h-1zM241 655h3v1h-3zM242 654h1v3h-1zM243 653h3v1h-3zM244 652h1v3h-1zM246 651h3v1h-3zM247 650h1v3h-1zM248 650h3v1h-3zM249 649h1v3h-1zM250 649h3v1h-3zM251 648h1v3h-1zM253 647h3v1h-3zM254 646h1v3h-1zM255 646h3v1h-3zM256 645h1v3h-1zM258 644h3v1h-3zM259 643h1v3h-1zM260 640h3v1h-3zM261 639h1v3h-1zM263 635h3v1h-3zM264 634h1v3h-1zM465 533h3v1h-3zM466 532h1v3h-1zM467 531h3v1h-3zM468 530h1v3h-1zM469 529h3v1h-3zM470 528h1v3h-1zM470 527h3v1h-3zM471 526h1v3h-1zM472 525h3v1h-3zM473 524h1v3h-1zM474 522h3v1h-3zM475 521h1v3h-1zM476 520h3v1h-3zM477 519h1v3h-1zM477 518h3v1h-3zM478 517h1v3h-1zM479 516h3v1h-3zM480 515h1v3h-1zM481 514h3v1h-3zM482 513h1v3h-1zM482 513h3v1h-3zM483 512h1v3h-1zM484 512h3v1h-3zM485 511h1v3h-1zM486 511h3v1h-3zM487 510h1v3h-1zM487 505h3v1h-3zM488 504h1v3h-1zM489 502h3v1h-3zM490 501h1v3h-1zM491 500h3v1h-3zM492 499h1v3h-1zM492 498h3v1h-3zM493 497h1v3h-1zM494 497h3v1h-3zM495 496h1v3h-1zM496 499h3v1h-3zM497 498h1v3h-1zM497 501h3v1h-3zM498 500h1v3h-1zM499 503h3v1h-3zM500 502h1v3h-1zM500 505h3v1h-3zM501 504h1v3h-1zM502 507h3v1h-3zM503 506h1v3h-1zM503 510h3v1h-3zM504 509h1v3h-1zM505 513h3v1h-3zM506 512h1v3h-1zM507 515h3v1h-3zM508 514h1v3h-1zM508 517h3v1h-3zM509 516h1v3h-1zM510 519h3v1h-3zM511 518h1v3h-1zM511 520h3v1h-3zM512 519h1v3h-1zM513 522h3v1h-3zM514 521h1v3h-1zM514 524h3v1h-3zM515 523h1v3h-1zM516 526h3v1h-3zM517 525h1v3h-1zM517 528h3v1h-3zM518 527h1v3h-1zM519 529h3v1h-3zM520 528h1v3h-1zM521 537h3v1h-3zM522 536h1v3h-1zM523 536h3v1h-3zM524 535h1v3h-1zM524 536h3v1h-3zM525 535h1v3h-1zM526 537h3v1h-3zM527 536h1v3h-1zM527 539h3v1h-3zM528 538h1v3h-1zM529 540h3v1h-3zM530 539h1v3h-1zM530 542h3v1h-3zM531 541h1v3h-1zM531 543h3v1h-3zM532 542h1v3h-1zM533 543h3v1h-3zM534 542h1v3h-1zM534 543h3v1h-3zM535 542h1v3h-1zM535 543h3v1h-3zM536 542h1v3h-1zM537 543h3v1h-3zM538 542h1v3h-1zM538 542h3v1h-3zM539 541h1v3h-1zM539 542h3v1h-3zM540 541h1v3h-1zM541 541h3v1h-3zM542 540h1v3h-1zM542 540h3v1h-3zM543 539h1v3h-1zM543 538h3v1h-3zM544 537h1v3h-1zM545 537h3v1h-3zM546 536h1v3h-1zM546 535h3v1h-3zM547 534h1v3h-1zM547 533h3v1h-3zM548 532h1v3h-1zM548 531h3v1h-3zM549 530h1v3h-1zM550 529h3v1h-3zM551 528h1v3h-1zM551 527h3v1h-3zM552 526h1v3h-1zM552 526h3v1h-3zM553 525h1v3h-1zM553 525h3v1h-3zM554 524h1v3h-1zM555 524h3v1h-3zM556 523h1v3h-1zM556 523h3v1h-3zM557 522h1v3h-1zM557 523h3v1h-3zM558 522h1v3h-1zM558 521h3v1h-3zM559 520h1v3h-1zM559 520h3v1h-3zM560 519h1v3h-1zM560 519h3v1h-3zM561 518h1v3h-1zM562 517h3v1h-3zM563 516h1v3h-1zM563 516h3v1h-3zM564 515h1v3h-1zM564 514h3v1h-3zM565 513h1v3h-1zM565 513h3v1h-3zM566 512h1v3h-1zM566 511h3v1h-3zM567 510h1v3h-1z" fill="#000" stroke="none"/>
<path d="M352.5 587.5L360.5 587.5M356.5 583.5L356.5 591.5M353.5 584.5L359.5 590.5M353.5 590.5L359.5 584.5M354.5 586.5L362.5 586.5M358.5 582.5L358.5 590.5M355.5 583.5L361.5 589.5M355.5 589.5L361.5 583.5M355.5 586.5L363.5 586.5M359.5 582.5L359.5 590.5M356.5 583.5L362.5 589.5M356.5 589.5L362.5 583.5M356.5 586.5L364.5 586.5M360.5 582.5L360.5 590.5M357.5 583.5L363.5 589.5M357.5 589.5L363.5 583.5M358.5 585.5L366.5 585.5M362.5 581.5L362.5 589.5M359.5 582.5L365.5 588.5M359.5 588.5L365.5 582.5M532.5 542.5L540.5 542.5M536.5 538.5L536.5 546.5M533.5 539.5L539.5 545.5M533.5 545.5L539.5 539.5M534.5 542.5L542.5 542.5M538.5 538.5L538.5 546.5M535.5 539.5L541.5 545.5M535.5 545.5L541.5 539.5M535.5 542.5L543.5 542.5M539.5 538.5L539.5 546.5M536.5 539.5L542.5 545.5M536.5 545.5L542.5 539.5M536.5 542.5L544.5 542.5M540.5 538.5L540.5 546.5M537.5 539.5L543.5 545.5M537.5 545.5L543.5 539.5M538.5 542.5L546.5 542.5M542.5 538.5L542.5 546.5M539.5 539.5L545.5 545.5M539.5 545.5L545.5 539.5" stroke="#0000ff" fill="none"/>
<path d="M128.5 690.5L166.5 690.5" stroke="#ff0000" fill="none"/>
<path d="M166.5 690.5L168.5 689.5L171.5 688.5L173.5 687.5L176.5 686.5L178.5 685.5L181.5 684.5L183.5 683.5L186.5 682.5L188.5 681.5L191.5 680.5L193.5 678.5L196.5 676.5L199.5 676.5L201.5 675.5L204.5 673.5L206.5 671.5L209.5 669.5L211.5 667.5L213.5 665.5L216.5 663.5L218.5 661.5L221.5 660.5L223.5 659.5L226.5 658.5L228.5 658.5L231.5 657.5L233.5 655.5L236.5 653.5L238.5 651.5L241.5 650.5L243.5 648.5L245.5 647.5L248.5 646.5L250.5 645.5L253.5 644.5L255.5 643.5L258.5 642.5L260.5 640.5L262.5 639.5L265.5 638.5L267.5 637.5L270.5 636.5L272.5 635.5L274.5 634.5L277.5 633.5L279.5 632.5L281.5 631.5L284.5 630.5L286.5 629.5L288.5 628.5L291.5 627.5L293.5 626.5L295.5 624.5L298.5 623.5L300.5 622.5L302.5 621.5L305.5 620.5L307.5 620.5L309.5 619.5L312.5 618.5L314.5 617.5L316.5 616.5L319.5 615.5L321.5 615.5L323.5 614.5L325.5 613.5L328.5 612.5L330.5 612.5L332.5 611.5L334.5 610.5L337.5 610.5L339.5 609.5L341.5 608.5L343.5 608.5L345.5 607.5L348.5 606.5L350.5 605.5L352.5 605.5L354.5 604.5L356.5 604.5L359.5 603.5L361.5 602.5L363.5 602.5L365.5 601.5L367.5 601.5L369.5 600.5L371.5 600.5L374.5 599.5L376.5 599.5L378.5 598.5L380.5 598.5L382.5 597.5L384.5 596.5L386.5 596.5L388.5 595.5L390.5 595.5L392.5 594.5L395.5 594.5L397.5 593.5L399.5 593.5L401.5 592.5L403.5 592.5L405.5 591.5L407.5 591.5L409.5 590.5L411.5 590.5L413.5 589.5L415.5 589.5L417.5 588.5L419.5 588.5L421.5 587.5L423.5 586.5L425.5 586.5L426.5 585.5L428.5 585.5L430.5 584.5L432.5 584.5L434.5 583.5L436.5 582.5L438.5 582.5L440.5 581.5L442.5 581.5L444.5 580.5L445.5 580.5L447.5 579.5L449.5 579.5L451.5 578.5L453.5 578.5L455.5 578.5L456.5 577.5L458.5 577.5L460.5 576.5L462.5 576.5L464.5 576.5L465.5 575.5L467.5 575.5L469.5 574.5L471.5 574.5L472.5 574.5L474.5 573.5L476.5 573.5L477.5 572.5L479.5 572.5L481.5 572.5L483.5 571.5L484.5 571.5L486.5 571.5L488.5 570.5L489.5 570.5L491.5 570.5L493.5 569.5L494.5 569.5L496.5 569.5L497.5 568.5L499.5 568.5L501.5 568.5L502.5 567.5L504.5 567.5L505.5 567.5L507.5 566.5L508.5 566.5L510.5 566.5L511.5 566.5L513.5 565.5L514.5 565.5L516.5 564.5L517.5 564.5L519.5 564.5L520.5 563.5L522.5 563.5L523.5 563.5L525.5 562.5L526.5 562.5L527.5 562.5L529.5 562.5L530.5 561.5L532.5 561.5L533.5 561.5L534.5 560.5L536.5 560.5L537.5 560.5L538.5 560.5L540.5 559.5L541.5 559.5L542.5 559.5L544.5 559.5L545.5 558.5L546.5 558.5L548.5 558.5L549.5 558.5L550.5 557.5L551.5 557.5L553.5 557.5L554.5 557.5L555.5 556.5L556.5 556.5L557.5 556.5L559.5 556.5L560.5 555.5L561.5 555.5L562.5 555.5L563.5 555.5L564.5 554.5L565.5 554.5L567.5 554.5L568.5 554.5L569.5 553.5L570.5 553.5L571.5 553.5L572.5 553.5L573.5 553.5L574.5 552.5L575.5 552.5L576.5 552.5L577.5 552.5L578.5 552.5L579.5 551.5L580.5 551.5L581.5 551.5L582.5 551.5L583.5 551.5L584.5 550.5L585.5 550.5L586.5 550.5L586.5 550.5L587.5 550.5L588.5 550.5L589.5 549.5L590.5 549.5L591.5 549.5L592.5 549.5L592.5 549.5L593.5 549.5L594.5 548.5L595.5 548.5L596.5 548.5L596.5 548.5L597.5 548.5L598.5 548.5L599.5 548.5L599.5 548.5L600.5 548.5L601.5 547.5L601.5 547.5L602.5 547.5L603.5 547.5L603.5 547.5L604.5 547.5L605.5 547.5L605.5 547.5L606.5 547.5L607.5 547.5L607.5 546.5L608.5 546.5L608.5 546.5L609.5 546.5L609.5 546.5L610.5 546.5L610.5 546.5L611.5 546.5L611.5 546.5L612.5 546.5L612.5 546.5L613.5 546.5L613.5 546.5L614.5 545.5L614.5 545.5L615.5 545.5L615.5 545.5L615.5 545.5L616.5 545.5L616.5 545.5L617.5 545.5L617.5 545.5L617.5 545.5L618.5 545.5L618.5 545.5L618.5 545.5L619.5 545.5L619.5 545.5L619.5 545.5L619.5 545.5L620.5 545.5L620.5 545.5L620.5 545.5L620.5 544.5L621.5 544.5L621.5 544.5L621.5 544.5L621.5 544.5L621.5 544.5L621.5 544.5L622.5 544.5L622.5 544.5L622.5 544.5L622.5 544.5L622.5 544.5L622.5 544.5L622.5 544.5L622.5 544.5L622.5 544.5L622.5 544.5L622.5 544.5L622.5 544.5M164.5 690.5L167.5 690.5L169.5 689.5L172.5 688.5L175.5 687.5L177.5 686.5L180.5 685.5L182.5 684.5L185.5 683.5L187.5 682.5L190.5 680.5L192.5 679.5L195.5 677.5L197.5 676.5L200.5 675.5L202.5 674.5L205.5 672.5L207.5 670.5L210.5 668.5L212.5 666.5L215.5 664.5L217.5 662.5L220.5 660.5L222.5 659.5L225.5 658.5L227.5 658.5L229.5 657.5L232.5 656.5L234.5 654.5L237.5 652.5L239.5 650.5L242.5 649.5L244.5 647.5L247.5 646.5L249.5 645.5L251.5 644.5L254.5 643.5L256.5 642.5L259.5 641.5L261.5 640.5L264.5 639.5L266.5 638.5L268.5 636.5L271.5 635.5L273.5 634.5L275.5 633.5L278.5 632.5L280.5 631.5L283.5 630.5L285.5 629.5L287.5 628.5L290.5 627.5L292.5 626.5L294.5 625.5L297.5 624.5L299.5 623.5L301.5 622.5L304.5 621.5L306.5 620.5L308.5 619.5L310.5 618.5L313.5 617.5L315.5 617.5L317.5 616.5L320.5 615.5L322.5 614.5L324.5 613.5L326.5 613.5L329.5 612.5L331.5 611.5L333.5 611.5L335.5 610.5L338.5 609.5L340.5 609.5L342.5 608.5L344.5 607.5L347.5 606.5L349.5 606.5L351.5 605.5L353.5 604.5L355.5 604.5L357.5 603.5L360.5 603.5L362.5 602.5L364.5 602.5L366.5 601.5L368.5 601.5L370.5 600.5L373.5 599.5L375.5 599.5L377.5 598.5L379.5 598.5L381.5 597.5L383.5 597.5L385.5 596.5L387.5 596.5L389.5 595.5L391.5 595.5L393.5 594.5L396.5 594.5L398.5 593.5L400.5 593.5L402.5 592.5L404.5 592.5L406.5 591.5L408.5 591.5L410.5 590.5L412.5 590.5L414.5 589.5L416.5 589.5L418.5 588.5L420.5 587.5L422.5 587.5L423.5 586.5L425.5 586.5L427.5 585.5L429.5 584.5L431.5 584.5L433.5 583.5L435.5 583.5L437.5 582.5L439.5 582.5L441.5 581.5L443.5 580.5L444.5 580.5L446.5 579.5L448.5 579.5L450.5 579.5L452.5 578.5L454.5 578.5L455.5 577.5L457.5 577.5L459.5 577.5L461.5 576.5L463.5 576.5L464.5 575.5L466.5 575.5L468.5 575.5L470.5 574.5L471.5 574.5L473.5 573.5L475.5 573.5L477.5 573.5L478.5 572.5L480.5 572.5L482.5 572.5L483.5 571.5L485.5 571.5L487.5 570.5L488.5 570.5L490.5 570.5L492.5 569.5L493.5 569.5L495.5 569.5L497.5 568.5L498.5 568.5L500.5 568.5L501.5 568.5L503.5 567.5L504.5 567.5L506.5 567.5L508.5 566.5L509.5 566.5L511.5 566.5L512.5 565.5L514.5 565.5L515.5 565.5L517.5 564.5L518.5 564.5L520.5 564.5L521.5 563.5L522.5 563.5L524.5 563.5L525.5 562.5L527.5 562.5L528.5 562.5L530.5 561.5L531.5 561.5L532.5 561.5L534.5 561.5L535.5 560.5L536.5 560.5L538.5 560.5L539.5 559.5L540.5 559.5L542.5 559.5L543.5 559.5L544.5 558.5L546.5 558.5L547.5 558.5L548.5 558.5L549.5 557.5L551.5 557.5L552.5 557.5L553.5 557.5L554.5 556.5L556.5 556.5L557.5 556.5L558.5 556.5L559.5 555.5L560.5 555.5L561.5 555.5L563.5 555.5L564.5 555.5L565.5 554.5L566.5 554.5L567.5 554.5L568.5 554.5L569.5 553.5L570.5 553.5L571.5 553.5L572.5 553.5L573.5 553.5L574.5 552.5L576.5 552.5L577.5 552.5L578.5 552.5L579.5 552.5L579.5 551.5L580.5 551.5L581.5 551.5L582.5 551.5L583.5 551.5L584.5 550.5L585.5 550.5L586.5 550.5L587.5 550.5L588.5 550.5L589.5 550.5L590.5 549.5L590.5 549.5L591.5 549.5L592.5 549.5L593.5 549.5L594.5 549.5L594.5 548.5L595.5 548.5L596.5 548.5L597.5 548.5L598.5 548.5L598.5 548.5L599.5 548.5L600.5 548.5L600.5 547.5L601.5 547.5L602.5 547.5L602.5 547.5L603.5 547.5L604.5 547.5L604.5 547.5L605.5 547.5L606.5 547.5L606.5 547.5L607.5 547.5L607.5 546.5L608.5 546.5L609.5 546.5L609.5 546.5L610.5 546.5L610.5 546.5L611.5 546.5L611.5 546.5L612.5 546.5L612.5 546.5L613.5 546.5L613.5 546.5L614.5 546.5L614.5 545.5L614.5 545.5L615.5 545.5L615.5 545.5L616.5 545.5L616.5 545.5L616.5 545.5L617.5 545.5L617.5 545.5L617.5 545.5L618.5 545.5L618.5 545.5L618.5 545.5L619.5 545.5L619.5 545.5L619.5 545.5L620.5 545.5L620.5 545.5L620.5 545.5L620.5 545.5L620.5 544.5L621.5 544.5L621.5 544.5L621.5 544.5L621.5 544.5L621.5 544.5L621.5 544.5L622.5 544.5L622.5 544.5L622.5 544.5L622.5 544.5L622.5 544.5L622.5 544.5L622.5 544.5L622.5 544.5L622.5 544.5L622.5 544.5L622.5 544.5L622.5 544.5" stroke="#ff0000" fill="none"/>
<path d="M128 689h4v3h-4zM133 689h4v3h-4zM138 689h4v3h-4zM143 689h4v3h-4zM148 689h4v3h-4zM153 689h4v3h-4zM158 689h4v3h-4zM163 689h4v3h-4zM165 690h3v1h-3zM166 689h1v3h-1zM167 689h3v1h-3zM168 688h1v3h-1zM170 688h3v1h-3zM171 687h1v3h-1zM172 687h3v1h-3zM173 686h1v3h-1zM175 686h3v1h-3zM176 685h1v3h-1zM177 685h3v1h-3zM178 684h1v3h-1zM180 684h3v1h-3zM181 683h1v3h-1zM182 683h3v1h-3zM183 682h1v3h-1zM185 682h3v1h-3zM186 681h1v3h-1zM187 681h3v1h-3zM188 680h1v3h-1zM190 680h3v1h-3zM191 679h1v3h-1zM192 678h3v1h-3zM193 677h1v3h-1zM195 676h3v1h-3zM196 675h1v3h-1zM198 676h3v1h-3zM199 675h1v3h-1zM200 675h3v1h-3zM201 674h1v3h-1zM203 673h3v1h-3zM204 672h1v3h-1zM205 671h3v1h-3zM206 670h1v3h-1zM208 669h3v1h-3zM209 668h1v3h-1zM210 667h3v1h-3zM211 666h1v3h-1zM212 665h3v1h-3zM213 664h1v3h-1zM215 663h3v1h-3zM216 662h1v3h-1zM217 661h3v1h-3zM218 660h1v3h-1zM220 660h3v1h-3zM221 659h1v3h-1zM222 659h3v1h-3zM223 658h1v3h-1zM225 658h3v1h-3zM226 657h1v3h-1zM227 658h3v1h-3zM228 657h1v3h-1zM230 657h3v1h-3zM231 656h1v3h-1zM232 655h3v1h-3zM233 654h1v3h-1zM235 653h3v1h-3zM236 652h1v3h-1zM163 690h3v1h-3zM164 689h1v3h-1zM166 690h3v1h-3zM167 689h1v3h-1zM168 689h3v1h-3zM169 688h1v3h-1zM171 688h3v1h-3zM172 687h1v3h-1zM174 687h3v1h-3zM175 686h1v3h-1zM176 686h3v1h-3zM177 685h1v3h-1zM179 685h3v1h-3zM180 684h1v3h-1zM181 684h3v1h-3zM182 683h1v3h-1zM184 683h3v1h-3zM185 682h1v3h-1zM186 682h3v1h-3zM187 681h1v3h-1zM189 680h3v1h-3zM190 679h1v3h-1zM191 679h3v1h-3zM192 678h1v3h-1zM194 677h3v1h-3zM195 676h1v3h-1zM196 676h3v1h-3zM197 675h1v3h-1zM199 675h3v1h-3zM200 674h1v3h-1zM201 674h3v1h-3zM202 673h1v3h-1zM204 672h3v1h-3zM205 671h1v3h-1zM206 670h3v1h-3zM207 669h1v3h-1zM209 668h3v1h-3zM210 667h1v3h-1zM211 666h3v1h-3zM212 665h1v3h-1zM214 664h3v1h-3zM215 663h1v3h-1zM216 662h3v1h-3zM217 661h1v3h-1zM219 660h3v1h-3zM220 659h1v3h-1zM221 659h3v1h-3zM222 658h1v3h-1zM224 658h3v1h-3zM225 657h1v3h-1zM226 658h3v1h-3zM227 657h1v3h-1zM228 657h3v1h-3zM229 656h1v3h-1zM231 656h3v1h-3zM232 655h1v3h-1zM233 654h3v1h-3zM234 653h1v3h-1zM237 650h3v3h-3zM240 649h3v3h-3zM242 647h3v3h-3zM244 646h3v3h-3zM247 645h3v3h-3zM249 644h3v3h-3zM252 643h3v3h-3zM254 642h3v3h-3zM257 641h3v3h-3zM259 639h3v3h-3zM261 638h3v3h-3zM264 637h3v3h-3zM266 636h3v3h-3zM269 635h3v3h-3zM271 634h3v3h-3zM273 633h3v3h-3zM276 632h3v3h-3zM278 631h3v3h-3zM280 630h3v3h-3zM283 629h3v3h-3zM285 628h3v3h-3zM287 627h3v3h-3zM290 626h3v3h-3zM292 625h3v3h-3zM294 623h3v3h-3zM297 622h3v3h-3zM299 621h3v3h-3zM301 620h3v3h-3zM304 619h3v3h-3zM306 619h3v3h-3zM308 618h3v3h-3zM311 617h3v3h-3zM313 616h3v3h-3zM315 615h3v3h-3zM318 614h3v3h-3zM320 614h3v3h-3zM322 613h3v3h-3zM324 612h3v3h-3zM327 611h3v3h-3zM329 611h3v3h-3zM331 610h3v3h-3zM333 609h3v3h-3zM336 609h3v3h-3zM338 608h3v3h-3zM340 607h3v3h-3zM342 607h3v3h-3zM344 606h3v3h-3zM347 605h3v3h-3zM349 604h3v3h-3zM351 604h3v3h-3zM353 603h3v3h-3zM355 603h3v3h-3zM358 602h3v3h-3zM360 601h3v3h-3zM362 601h3v3h-3zM364 600h3v3h-3zM366 600h3v3h-3zM368 599h3v3h-3zM370 599h3v3h-3zM373 598h3v3h-3zM375 598h3v3h-3zM377 597h3v3h-3zM379 597h3v3h-3zM381 596h3v3h-3zM383 595h3v3h-3zM385 595h3v3h-3zM387 594h3v3h-3zM389 594h3v3h-3zM391 593h3v3h-3zM394 593h3v3h-3zM396 592h3v3h-3zM398 592h3v3h-3zM400 591h3v3h-3zM402 591h3v3h-3zM404 590h3v3h-3zM406 590h3v3h-3zM408 589h3v3h-3zM410 589h3v3h-3zM412 588h3v3h-3zM414 588h3v3h-3zM416 587h3v3h-3zM418 587h3v3h-3zM420 586h3v3h-3zM422 585h3v3h-3zM424 585h3v3h-3zM425 584h3v3h-3zM427 584h3v3h-3zM429 583h3v3h-3zM431 583h3v3h-3zM433 582h3v3h-3zM435 581h3v3h-3zM437 581h3v3h-3zM439 580h3v3h-3zM441 580h3v3h-3zM443 579h3v3h-3zM444 579h3v3h-3zM446 578h3v3h-3zM448 578h3v3h-3zM450 577h3v3h-3zM452 577h3v3h-3zM454 577h3v3h-3zM455 576h3v3h-3zM457 576h3v3h-3zM459 575h3v3h-3zM461 575h3v3h-3zM463 575h3v3h-3zM464 574h3v3h-3zM466 574h3v3h-3zM468 573h3v3h-3zM470 573h3v3h-3zM471 573h3v3h-3zM473 572h3v3h-3zM475 572h3v3h-3zM476 571h3v3h-3zM478 571h3v3h-3zM480 571h3v3h-3zM482 570h3v3h-3zM483 570h3v3h-3zM485 570h3v3h-3zM487 569h3v3h-3zM488 569h3v3h-3zM490 569h3v3h-3zM492 568h3v3h-3zM493 568h3v3h-3zM495 568h3v3h-3zM496 567h3v3h-3zM498 567h3v3h-3zM500 567h3v3h-3zM501 566h3v3h-3zM503 566h3v3h-3zM504 566h3v3h-3zM506 565h3v3h-3zM507 565h3v3h-3zM509 565h3v3h-3zM510 565h3v3h-3zM512 564h3v3h-3zM513 564h3v3h-3zM515 563h3v3h-3zM516 563h3v3h-3zM518 563h3v3h-3zM519 562h3v3h-3zM521 562h3v3h-3zM522 562h3v3h-3zM524 561h3v3h-3zM525 561h3v3h-3zM526 561h3v3h-3zM528 561h3v3h-3zM529 560h3v3h-3zM531 560h3v3h-3zM532 560h3v3h-3zM533 559h3v3h-3zM535 559h3v3h-3zM536 559h3v3h-3zM537 559h3v3h-3zM539 558h3v3h-3zM540 558h3v3h-3zM541 558h3v3h-3zM543 558h3v3h-3zM544 557h3v3h-3zM545 557h3v3h-3zM547 557h3v3h-3zM548 557h3v3h-3zM549 556h3v3h-3zM550 556h3v3h-3zM552 556h3v3h-3zM553 556h3v3h-3zM554 555h3v3h-3zM555 555h3v3h-3zM556 555h3v3h-3zM558 555h3v3h-3zM559 554h3v3h-3zM560 554h3v3h-3zM561 554h3v3h-3zM562 554h3v3h-3zM563 553h3v3h-3zM564 553h3v3h-3zM566 553h3v3h-3zM567 553h3v3h-3zM568 552h3v3h-3zM569 552h3v3h-3zM570 552h3v3h-3zM571 552h3v3h-3zM572 552h3v3h-3zM573 551h3v3h-3zM574 551h3v3h-3zM575 551h3v3h-3zM576 551h3v3h-3zM577 551h3v3h-3zM578 550h3v3h-3zM579 550h3v3h-3zM580 550h3v3h-3zM581 550h3v3h-3zM582 550h3v3h-3zM583 549h3v3h-3zM584 549h3v3h-3zM585 549h3v3h-3zM586 549h3v3h-3zM587 549h3v3h-3zM588 548h3v3h-3zM589 548h3v3h-3zM590 548h3v3h-3zM591 548h3v3h-3zM592 548h3v3h-3zM593 547h3v3h-3zM594 547h3v3h-3zM595 547h3v3h-3zM596 547h3v3h-3zM597 547h3v3h-3zM598 547h3v3h-3zM599 547h3v3h-3zM600 546h3v3h-3zM601 546h3v3h-3zM602 546h3v3h-3zM603 546h3v3h-3zM604 546h3v3h-3zM605 546h3v3h-3zM606 546h3v3h-3zM606 545h3v3h-3zM607 545h3v3h-3zM608 545h3v3h-3zM609 545h3v3h-3zM610 545h3v3h-3zM611 545h3v3h-3zM612 545h3v3h-3zM613 544h3v3h-3zM614 544h3v3h-3zM615 544h3v3h-3zM616 544h3v3h-3zM617 544h3v3h-3zM618 544h3v3h-3zM619 544h3v3h-3zM619 543h3v3h-3zM620 543h3v3h-3zM621 543h3v3h-3zM236 651h3v3h-3zM238 649h3v3h-3zM241 648h3v3h-3zM243 646h3v3h-3zM246 645h3v3h-3zM248 644h3v3h-3zM250 643h3v3h-3zM253 642h3v3h-3zM255 641h3v3h-3zM258 640h3v3h-3zM260 639h3v3h-3zM263 638h3v3h-3zM265 637h3v3h-3zM267 635h3v3h-3zM270 634h3v3h-3zM272 633h3v3h-3zM274 632h3v3h-3zM277 631h3v3h-3zM279 630h3v3h-3zM282 629h3v3h-3zM284 628h3v3h-3zM286 627h3v3h-3zM289 626h3v3h-3zM291 625h3v3h-3zM293 624h3v3h-3zM296 623h3v3h-3zM298 622h3v3h-3zM300 621h3v3h-3zM303 620h3v3h-3zM305 619h3v3h-3zM307 618h3v3h-3zM309 617h3v3h-3zM312 616h3v3h-3zM314 616h3v3h-3zM316 615h3v3h-3zM319 614h3v3h-3zM321 613h3v3h-3zM323 612h3v3h-3zM325 612h3v3h-3zM328 611h3v3h-3zM330 610h3v3h-3zM332 610h3v3h-3zM334 609h3v3h-3zM337 608h3v3h-3zM339 608h3v3h-3zM341 607h3v3h-3zM343 606h3v3h-3zM346 605h3v3h-3zM348 605h3v3h-3zM350 604h3v3h-3zM352 603h3v3h-3zM354 603h3v3h-3zM356 602h3v3h-3zM359 602h3v3h-3zM361 601h3v3h-3zM363 601h3v3h-3zM365 600h3v3h-3zM367 600h3v3h-3zM369 599h3v3h-3zM372 598h3v3h-3zM374 598h3v3h-3zM376 597h3v3h-3zM378 597h3v3h-3zM380 596h3v3h-3zM382 596h3v3h-3zM384 595h3v3h-3zM386 595h3v3h-3zM388 594h3v3h-3zM390 594h3v3h-3zM392 593h3v3h-3zM395 593h3v3h-3zM397 592h3v3h-3zM399 592h3v3h-3zM401 591h3v3h-3zM403 591h3v3h-3zM405 590h3v3h-3zM407 590h3v3h-3zM409 589h3v3h-3zM411 589h3v3h-3zM413 588h3v3h-3zM415 588h3v3h-3zM417 587h3v3h-3zM419 586h3v3h-3zM421 586h3v3h-3zM426 584h3v3h-3zM428 583h3v3h-3zM430 583h3v3h-3zM432 582h3v3h-3zM434 582h3v3h-3zM436 581h3v3h-3zM438 581h3v3h-3zM440 580h3v3h-3zM442 579h3v3h-3zM445 578h3v3h-3zM447 578h3v3h-3zM449 578h3v3h-3zM451 577h3v3h-3zM453 577h3v3h-3zM454 576h3v3h-3zM456 576h3v3h-3zM458 576h3v3h-3zM460 575h3v3h-3zM462 575h3v3h-3zM463 574h3v3h-3zM465 574h3v3h-3zM467 574h3v3h-3zM469 573h3v3h-3zM472 572h3v3h-3zM474 572h3v3h-3zM476 572h3v3h-3zM477 571h3v3h-3zM479 571h3v3h-3zM481 571h3v3h-3zM484 570h3v3h-3zM486 569h3v3h-3zM489 569h3v3h-3zM491 568h3v3h-3zM494 568h3v3h-3zM497 567h3v3h-3zM499 567h3v3h-3zM502 566h3v3h-3zM505 566h3v3h-3zM508 565h3v3h-3zM511 564h3v3h-3zM514 564h3v3h-3zM517 563h3v3h-3zM519 563h3v3h-3zM520 562h3v3h-3zM523 562h3v3h-3zM527 561h3v3h-3zM530 560h3v3h-3zM533 560h3v3h-3zM534 559h3v3h-3zM538 558h3v3h-3zM542 558h3v3h-3zM543 557h3v3h-3zM546 557h3v3h-3zM548 556h3v3h-3zM551 556h3v3h-3zM553 555h3v3h-3zM557 555h3v3h-3zM558 554h3v3h-3zM563 554h3v3h-3zM565 553h3v3h-3zM578 551h3v3h-3zM588 549h3v3h-3zM593 548h3v3h-3zM599 546h3v3h-3zM613 545h3v3h-3z" fill="#ff0000" stroke="none"/>
<path d="M206.5 688.5L209.5 665.5L211.5 655.5L213.5 647.5L216.5 641.5L218.5 635.5L221.5 630.5L223.5 625.5L226.5 621.5L228.5 616.5L231.5 613.5L233.5 609.5L236.5 605.5L238.5 602.5L241.5 598.5L243.5 595.5L245.5 592.5L248.5 589.5L250.5 586.5L253.5 584.5L255.5 581.5L258.5 578.5L260.5 576.5L262.5 573.5L265.5 571.5L267.5 568.5L270.5 566.5L272.5 564.5L274.5 561.5L277.5 559.5L279.5 557.5L281.5 555.5L284.5 553.5L286.5 551.5L288.5 549.5L291.5 547.5L293.5 545.5L295.5 543.5L298.5 541.5L300.5 539.5L302.5 537.5L305.5 535.5L307.5 533.5L309.5 532.5L312.5 530.5L314.5 528.5L316.5 526.5L319.5 525.5L321.5 523.5L323.5 521.5L325.5 520.5L328.5 518.5L330.5 517.5L332.5 515.5L334.5 514.5L337.5 512.5L339.5 511.5L341.5 509.5L343.5 508.5L345.5 506.5L348.5 505.5L350.5 503.5L352.5 502.5L354.5 500.5L356.5 499.5L359.5 498.5L361.5 496.5L363.5 495.5L365.5 494.5L367.5 492.5L369.5 491.5L371.5 490.5L374.5 488.5L376.5 487.5L378.5 486.5L380.5 485.5L382.5 483.5L384.5 482.5L386.5 481.5L388.5 480.5L390.5 479.5L392.5 477.5L395.5 476.5L397.5 475.5L399.5 474.5L401.5 473.5L403.5 472.5L405.5 470.5L407.5 469.5L409.5 468.5L411.5 467.5L413.5 466.5L415.5 465.5L417.5 464.5L419.5 463.5L421.5 462.5L423.5 461.5L425.5 460.5L426.5 459.5L428.5 458.5L430.5 457.5L432.5 456.5L434.5 455.5L436.5 454.5L438.5 453.5L440.5 452.5L442.5 451.5L444.5 450.5L445.5 449.5L447.5 448.5L449.5 447.5L451.5 446.5L453.5 445.5L455.5 444.5L456.5 444.5L458.5 443.5L460.5 442.5L462.5 441.5L464.5 440.5L465.5 439.5L467.5 438.5L469.5 437.5L471.5 437.5L472.5 436.5L474.5 435.5L476.5 434.5L477.5 433.5L479.5 433.5L481.5 432.5L483.5 431.5L484.5 430.5L486.5 429.5L488.5 429.5L489.5 428.5L491.5 427.5L493.5 426.5L494.5 426.5L496.5 425.5L497.5 424.5L499.5 423.5L501.5 423.5L502.5 422.5L504.5 421.5L505.5 421.5L507.5 420.5L508.5 419.5L510.5 419.5L511.5 418.5L513.5 417.5L514.5 416.5L516.5 416.5L517.5 415.5L519.5 415.5L520.5 414.5L522.5 413.5L523.5 413.5L525.5 412.5L526.5 411.5L527.5 411.5L529.5 410.5L530.5 410.5L532.5 409.5L533.5 408.5L534.5 408.5L536.5 407.5L537.5 407.5L538.5 406.5L540.5 405.5L541.5 405.5L542.5 404.5L544.5 404.5L545.5 403.5L546.5 403.5L548.5 402.5L549.5 402.5L550.5 401.5L551.5 401.5L553.5 400.5L554.5 400.5L555.5 399.5L556.5 399.5L557.5 398.5L559.5 398.5L560.5 397.5L561.5 397.5L562.5 396.5L563.5 396.5L564.5 395.5L565.5 395.5L567.5 394.5L568.5 394.5L569.5 393.5L570.5 393.5L571.5 392.5L572.5 392.5L573.5 392.5L574.5 391.5L575.5 391.5L576.5 390.5L577.5 390.5L578.5 390.5L579.5 389.5L580.5 389.5L581.5 388.5L582.5 388.5L583.5 388.5L584.5 387.5L585.5 387.5L586.5 387.5L586.5 386.5L587.5 386.5L588.5 385.5L589.5 385.5L590.5 385.5L591.5 384.5L592.5 384.5L592.5 384.5L593.5 383.5L594.5 383.5L595.5 383.5L596.5 383.5L596.5 382.5L597.5 382.5L598.5 382.5L599.5 381.5L599.5 381.5L600.5 381.5L601.5 381.5L601.5 380.5L602.5 380.5L603.5 380.5L603.5 379.5L604.5 379.5L605.5 379.5L605.5 379.5L606.5 379.5L607.5 378.5L607.5 378.5L608.5 378.5L608.5 378.5L609.5 377.5L609.5 377.5L610.5 377.5L610.5 377.5L611.5 377.5L611.5 376.5L612.5 376.5L612.5 376.5L613.5 376.5L613.5 376.5L614.5 375.5L614.5 375.5L615.5 375.5L615.5 375.5L615.5 375.5L616.5 375.5L616.5 375.5L617.5 374.5L617.5 374.5L617.5 374.5L618.5 374.5L618.5 374.5L618.5 374.5L619.5 374.5L619.5 374.5L619.5 373.5L619.5 373.5L620.5 373.5L620.5 373.5L620.5 373.5L620.5 373.5L621.5 373.5L621.5 373.5L621.5 373.5L621.5 373.5L621.5 373.5L621.5 373.5L622.5 373.5L622.5 372.5L622.5 372.5L622.5 372.5L622.5 372.5L622.5 372.5L622.5 372.5L622.5 372.5L622.5 372.5L622.5 372.5L622.5 372.5L622.5 372.5" stroke="#b46800" fill="none"/>
<path d="M207.5 673.5L210.5 660.5L212.5 651.5L215.5 644.5L217.5 638.5L220.5 633.5L222.5 628.5L225.5 623.5L227.5 619.5L229.5 615.5L232.5 611.5L234.5 607.5L237.5 604.5L239.5 600.5L242.5 597.5L244.5 594.5L247.5 591.5L249.5 588.5L251.5 585.5L254.5 582.5L256.5 580.5L259.5 577.5L261.5 574.5L264.5 572.5L266.5 569.5L268.5 567.5L271.5 565.5L273.5 562.5L275.5 560.5L278.5 558.5L280.5 556.5L283.5 554.5L285.5 552.5L287.5 550.5L290.5 548.5L292.5 546.5L294.5 544.5L297.5 542.5L299.5 540.5L301.5 538.5L304.5 536.5L306.5 534.5L308.5 533.5L310.5 531.5L313.5 529.5L315.5 527.5L317.5 526.5L320.5 524.5L322.5 522.5L324.5 521.5L326.5 519.5L329.5 517.5L331.5 516.5L333.5 514.5L335.5 513.5L338.5 511.5L340.5 510.5L342.5 508.5L344.5 507.5L347.5 505.5L349.5 504.5L351.5 503.5L353.5 501.5L355.5 500.5L357.5 498.5L360.5 497.5L362.5 496.5L364.5 494.5L366.5 493.5L368.5 492.5L370.5 490.5L373.5 489.5L375.5 488.5L377.5 486.5L379.5 485.5L381.5 484.5L383.5 483.5L385.5 482.5L387.5 480.5L389.5 479.5L391.5 478.5L393.5 477.5L396.5 476.5L398.5 474.5L400.5 473.5L402.5 472.5L404.5 471.5L406.5 470.5L408.5 469.5L410.5 468.5L412.5 467.5L414.5 466.5L416.5 464.5L418.5 463.5L420.5 462.5L422.5 461.5L423.5 460.5L425.5 459.5L427.5 458.5L429.5 457.5L431.5 456.5L433.5 455.5L435.5 454.5L437.5 453.5L439.5 452.5L441.5 451.5L443.5 450.5L444.5 450.5L446.5 449.5L448.5 448.5L450.5 447.5L452.5 446.5L454.5 445.5L455.5 444.5L457.5 443.5L459.5 442.5L461.5 441.5L463.5 440.5L464.5 440.5L466.5 439.5L468.5 438.5L470.5 437.5L471.5 436.5L473.5 435.5L475.5 435.5L477.5 434.5L478.5 433.5L480.5 432.5L482.5 431.5L483.5 431.5L485.5 430.5L487.5 429.5L488.5 428.5L490.5 428.5L492.5 427.5L493.5 426.5L495.5 425.5L497.5 425.5L498.5 424.5L500.5 423.5L501.5 422.5L503.5 422.5L504.5 421.5L506.5 420.5L508.5 420.5L509.5 419.5L511.5 418.5L512.5 418.5L514.5 417.5L515.5 416.5L517.5 416.5L518.5 415.5L520.5 414.5L521.5 414.5L522.5 413.5L524.5 412.5L525.5 412.5L527.5 411.5L528.5 410.5L530.5 410.5L531.5 409.5L532.5 409.5L534.5 408.5L535.5 407.5L536.5 407.5L538.5 406.5L539.5 406.5L540.5 405.5L542.5 405.5L543.5 404.5L544.5 404.5L546.5 403.5L547.5 402.5L548.5 402.5L549.5 401.5L551.5 401.5L552.5 400.5L553.5 400.5L554.5 399.5L556.5 399.5L557.5 398.5L558.5 398.5L559.5 397.5L560.5 397.5L561.5 396.5L563.5 396.5L564.5 395.5L565.5 395.5L566.5 395.5L567.5 394.5L568.5 394.5L569.5 393.5L570.5 393.5L571.5 392.5L572.5 392.5L573.5 391.5L574.5 391.5L576.5 391.5L577.5 390.5L578.5 390.5L579.5 389.5L579.5 389.5L580.5 389.5L581.5 388.5L582.5 388.5L583.5 387.5L584.5 387.5L585.5 387.5L586.5 386.5L587.5 386.5L588.5 386.5L589.5 385.5L590.5 385.5L590.5 385.5L591.5 384.5L592.5 384.5L593.5 384.5L594.5 383.5L594.5 383.5L595.5 383.5L596.5 382.5L597.5 382.5L598.5 382.5L598.5 382.5L599.5 381.5L600.5 381.5L600.5 381.5L601.5 380.5L602.5 380.5L602.5 380.5L603.5 380.5L604.5 379.5L604.5 379.5L605.5 379.5L606.5 379.5L606.5 378.5L607.5 378.5L607.5 378.5L608.5 378.5L609.5 377.5L609.5 377.5L610.5 377.5L610.5 377.5L611.5 377.5L611.5 376.5L612.5 376.5L612.5 376.5L613.5 376.5L613.5 376.5L614.5 376.5L614.5 375.5L614.5 375.5L615.5 375.5L615.5 375.5L616.5 375.5L616.5 375.5L616.5 374.5L617.5 374.5L617.5 374.5L617.5 374.5L618.5 374.5L618.5 374.5L618.5 374.5L619.5 374.5L619.5 373.5L619.5 373.5L620.5 373.5L620.5 373.5L620.5 373.5L620.5 373.5L620.5 373.5L621.5 373.5L621.5 373.5L621.5 373.5L621.5 373.5L621.5 373.5L621.5 373.5L622.5 372.5L622.5 372.5L622.5 372.5L622.5 372.5L622.5 372.5L622.5 372.5L622.5 372.5L622.5 372.5L622.5 372.5L622.5 372.5L622.5 372.5L622.5 372.5" stroke="#b46800" fill="none"/>
<path d="M205 687h3v3h-3zM208 664h3v3h-3zM210 654h3v3h-3zM212 646h3v3h-3zM215 640h3v3h-3zM217 634h3v3h-3zM220 629h3v3h-3zM222 624h3v3h-3zM225 620h3v3h-3zM227 615h3v3h-3zM230 612h3v3h-3zM232 608h3v3h-3zM235 604h3v3h-3zM237 601h3v3h-3zM240 597h3v3h-3zM242 594h3v3h-3zM244 591h3v3h-3zM247 588h3v3h-3zM249 585h3v3h-3zM252 583h3v3h-3zM254 580h3v3h-3zM257 577h3v3h-3zM259 575h3v3h-3zM261 572h3v3h-3zM264 570h3v3h-3zM266 567h3v3h-3zM269 565h3v3h-3zM271 563h3v3h-3zM273 560h3v3h-3zM276 558h3v3h-3zM278 556h3v3h-3zM280 554h3v3h-3zM283 552h3v3h-3zM285 550h3v3h-3zM287 548h3v3h-3zM290 546h3v3h-3zM292 544h3v3h-3zM294 542h3v3h-3zM297 540h3v3h-3zM299 538h3v3h-3zM301 536h3v3h-3zM304 534h3v3h-3zM306 532h3v3h-3zM308 531h3v3h-3zM311 529h3v3h-3zM313 527h3v3h-3zM315 525h3v3h-3zM318 524h3v3h-3zM320 522h3v3h-3zM322 520h3v3h-3zM324 519h3v3h-3zM327 517h3v3h-3zM329 516h3v3h-3zM331 514h3v3h-3zM333 513h3v3h-3zM336 511h3v3h-3zM338 510h3v3h-3zM340 508h3v3h-3zM342 507h3v3h-3zM344 505h3v3h-3zM347 504h3v3h-3zM349 502h3v3h-3zM351 501h3v3h-3zM353 499h3v3h-3zM355 498h3v3h-3zM358 497h3v3h-3zM360 495h3v3h-3zM362 494h3v3h-3zM364 493h3v3h-3zM366 491h3v3h-3zM368 490h3v3h-3zM370 489h3v3h-3zM373 487h3v3h-3zM375 486h3v3h-3zM377 485h3v3h-3zM379 484h3v3h-3zM381 482h3v3h-3zM383 481h3v3h-3zM385 480h3v3h-3zM387 479h3v3h-3zM389 478h3v3h-3zM391 476h3v3h-3zM394 475h3v3h-3zM396 474h3v3h-3zM398 473h3v3h-3zM400 472h3v3h-3zM402 471h3v3h-3zM404 469h3v3h-3zM406 468h3v3h-3zM408 467h3v3h-3zM410 466h3v3h-3zM412 465h3v3h-3zM414 464h3v3h-3zM416 463h3v3h-3zM418 462h3v3h-3zM420 461h3v3h-3zM422 460h3v3h-3zM424 459h3v3h-3zM425 458h3v3h-3zM427 457h3v3h-3zM429 456h3v3h-3zM431 455h3v3h-3zM433 454h3v3h-3zM435 453h3v3h-3zM437 452h3v3h-3zM439 451h3v3h-3zM441 450h3v3h-3zM443 449h3v3h-3zM444 448h3v3h-3zM446 447h3v3h-3zM448 446h3v3h-3zM450 445h3v3h-3zM452 444h3v3h-3zM454 443h3v3h-3zM455 443h3v3h-3zM457 442h3v3h-3zM459 441h3v3h-3zM461 440h3v3h-3zM463 439h3v3h-3zM464 438h3v3h-3zM466 437h3v3h-3zM468 436h3v3h-3zM470 436h3v3h-3zM471 435h3v3h-3zM473 434h3v3h-3zM475 433h3v3h-3zM476 432h3v3h-3zM478 432h3v3h-3zM480 431h3v3h-3zM482 430h3v3h-3zM483 429h3v3h-3zM485 428h3v3h-3zM487 428h3v3h-3zM488 427h3v3h-3zM490 426h3v3h-3zM492 425h3v3h-3zM493 425h3v3h-3zM495 424h3v3h-3zM496 423h3v3h-3zM498 422h3v3h-3zM500 422h3v3h-3zM501 421h3v3h-3zM503 420h3v3h-3zM504 420h3v3h-3zM506 419h3v3h-3zM507 418h3v3h-3zM509 418h3v3h-3zM510 417h3v3h-3zM512 416h3v3h-3zM513 415h3v3h-3zM515 415h3v3h-3zM516 414h3v3h-3zM518 414h3v3h-3zM519 413h3v3h-3zM521 412h3v3h-3zM522 412h3v3h-3zM524 411h3v3h-3zM525 410h3v3h-3zM526 410h3v3h-3zM528 409h3v3h-3zM529 409h3v3h-3zM531 408h3v3h-3zM532 407h3v3h-3zM533 407h3v3h-3zM535 406h3v3h-3zM536 406h3v3h-3zM537 405h3v3h-3zM539 404h3v3h-3zM540 404h3v3h-3zM541 403h3v3h-3zM543 403h3v3h-3zM544 402h3v3h-3zM545 402h3v3h-3zM547 401h3v3h-3zM548 401h3v3h-3zM549 400h3v3h-3zM550 400h3v3h-3zM552 399h3v3h-3zM553 399h3v3h-3zM554 398h3v3h-3zM555 398h3v3h-3zM556 397h3v3h-3zM558 397h3v3h-3zM559 396h3v3h-3zM560 396h3v3h-3zM561 395h3v3h-3zM562 395h3v3h-3zM563 394h3v3h-3zM564 394h3v3h-3zM566 393h3v3h-3zM567 393h3v3h-3zM568 392h3v3h-3zM569 392h3v3h-3zM570 391h3v3h-3zM571 391h3v3h-3zM572 391h3v3h-3zM573 390h3v3h-3zM574 390h3v3h-3zM575 389h3v3h-3zM576 389h3v3h-3zM577 389h3v3h-3zM578 388h3v3h-3zM579 388h3v3h-3zM580 387h3v3h-3zM581 387h3v3h-3zM582 387h3v3h-3zM583 386h3v3h-3zM584 386h3v3h-3zM585 386h3v3h-3zM585 385h3v3h-3zM586 385h3v3h-3zM587 384h3v3h-3zM588 384h3v3h-3zM589 384h3v3h-3zM590 383h3v3h-3zM591 383h3v3h-3zM592 382h3v3h-3zM593 382h3v3h-3zM594 382h3v3h-3zM595 382h3v3h-3zM595 381h3v3h-3zM596 381h3v3h-3zM597 381h3v3h-3zM598 380h3v3h-3zM599 380h3v3h-3zM600 380h3v3h-3zM600 379h3v3h-3zM601 379h3v3h-3zM602 379h3v3h-3zM602 378h3v3h-3zM603 378h3v3h-3zM604 378h3v3h-3zM605 378h3v3h-3zM606 377h3v3h-3zM607 377h3v3h-3zM608 376h3v3h-3zM609 376h3v3h-3zM610 376h3v3h-3zM610 375h3v3h-3zM611 375h3v3h-3zM612 375h3v3h-3zM613 374h3v3h-3zM614 374h3v3h-3zM615 374h3v3h-3zM616 373h3v3h-3zM617 373h3v3h-3zM618 373h3v3h-3zM618 372h3v3h-3zM619 372h3v3h-3zM620 372h3v3h-3zM621 372h3v3h-3zM621 371h3v3h-3zM206 672h3v3h-3zM209 659h3v3h-3zM211 650h3v3h-3zM214 643h3v3h-3zM216 637h3v3h-3zM219 632h3v3h-3zM221 627h3v3h-3zM224 622h3v3h-3zM226 618h3v3h-3zM228 614h3v3h-3zM231 610h3v3h-3zM233 606h3v3h-3zM236 603h3v3h-3zM238 599h3v3h-3zM241 596h3v3h-3zM243 593h3v3h-3zM246 590h3v3h-3zM248 587h3v3h-3zM250 584h3v3h-3zM253 581h3v3h-3zM255 579h3v3h-3zM258 576h3v3h-3zM260 573h3v3h-3zM263 571h3v3h-3zM265 568h3v3h-3zM267 566h3v3h-3zM270 564h3v3h-3zM272 561h3v3h-3zM274 559h3v3h-3zM277 557h3v3h-3zM279 555h3v3h-3zM282 553h3v3h-3zM284 551h3v3h-3zM286 549h3v3h-3zM289 547h3v3h-3zM291 545h3v3h-3zM293 543h3v3h-3zM296 541h3v3h-3zM298 539h3v3h-3zM300 537h3v3h-3zM303 535h3v3h-3zM305 533h3v3h-3zM307 532h3v3h-3zM309 530h3v3h-3zM312 528h3v3h-3zM314 526h3v3h-3zM316 525h3v3h-3zM319 523h3v3h-3zM321 521h3v3h-3zM323 520h3v3h-3zM325 518h3v3h-3zM328 516h3v3h-3zM330 515h3v3h-3zM332 513h3v3h-3zM334 512h3v3h-3zM337 510h3v3h-3zM339 509h3v3h-3zM341 507h3v3h-3zM343 506h3v3h-3zM346 504h3v3h-3zM348 503h3v3h-3zM350 502h3v3h-3zM352 500h3v3h-3zM354 499h3v3h-3zM356 497h3v3h-3zM359 496h3v3h-3zM361 495h3v3h-3zM363 493h3v3h-3zM365 492h3v3h-3zM367 491h3v3h-3zM369 489h3v3h-3zM372 488h3v3h-3zM374 487h3v3h-3zM376 485h3v3h-3zM378 484h3v3h-3zM380 483h3v3h-3zM382 482h3v3h-3zM384 481h3v3h-3zM386 479h3v3h-3zM388 478h3v3h-3zM390 477h3v3h-3zM392 476h3v3h-3zM395 475h3v3h-3zM397 473h3v3h-3zM399 472h3v3h-3zM401 471h3v3h-3zM403 470h3v3h-3zM405 469h3v3h-3zM407 468h3v3h-3zM409 467h3v3h-3zM411 466h3v3h-3zM413 465h3v3h-3zM415 463h3v3h-3zM417 462h3v3h-3zM419 461h3v3h-3zM421 460h3v3h-3zM422 459h3v3h-3zM424 458h3v3h-3zM426 457h3v3h-3zM428 456h3v3h-3zM430 455h3v3h-3zM432 454h3v3h-3zM434 453h3v3h-3zM436 452h3v3h-3zM438 451h3v3h-3zM440 450h3v3h-3zM442 449h3v3h-3zM445 448h3v3h-3zM447 447h3v3h-3zM449 446h3v3h-3zM451 445h3v3h-3zM453 444h3v3h-3zM456 442h3v3h-3zM458 441h3v3h-3zM460 440h3v3h-3zM462 439h3v3h-3zM465 438h3v3h-3zM467 437h3v3h-3zM469 436h3v3h-3zM470 435h3v3h-3zM472 434h3v3h-3zM474 434h3v3h-3zM476 433h3v3h-3zM477 432h3v3h-3zM479 431h3v3h-3zM481 430h3v3h-3zM484 429h3v3h-3zM486 428h3v3h-3zM487 427h3v3h-3zM489 427h3v3h-3zM491 426h3v3h-3zM494 424h3v3h-3zM496 424h3v3h-3zM497 423h3v3h-3zM499 422h3v3h-3zM500 421h3v3h-3zM502 421h3v3h-3zM505 419h3v3h-3zM507 419h3v3h-3zM508 418h3v3h-3zM511 417h3v3h-3zM513 416h3v3h-3zM514 415h3v3h-3zM516 415h3v3h-3zM517 414h3v3h-3zM520 413h3v3h-3zM523 411h3v3h-3zM527 409h3v3h-3zM530 408h3v3h-3zM534 406h3v3h-3zM538 405h3v3h-3zM541 404h3v3h-3zM542 403h3v3h-3zM546 401h3v3h-3zM548 400h3v3h-3zM551 399h3v3h-3zM553 398h3v3h-3zM557 397h3v3h-3zM558 396h3v3h-3zM560 395h3v3h-3zM565 394h3v3h-3zM572 390h3v3h-3zM575 390h3v3h-3zM582 386h3v3h-3zM587 385h3v3h-3zM592 383h3v3h-3zM605 377h3v3h-3zM613 375h3v3h-3zM615 373h3v3h-3z" fill="#b46800" stroke="none"/>
</g>
</svg>
</body></html>
